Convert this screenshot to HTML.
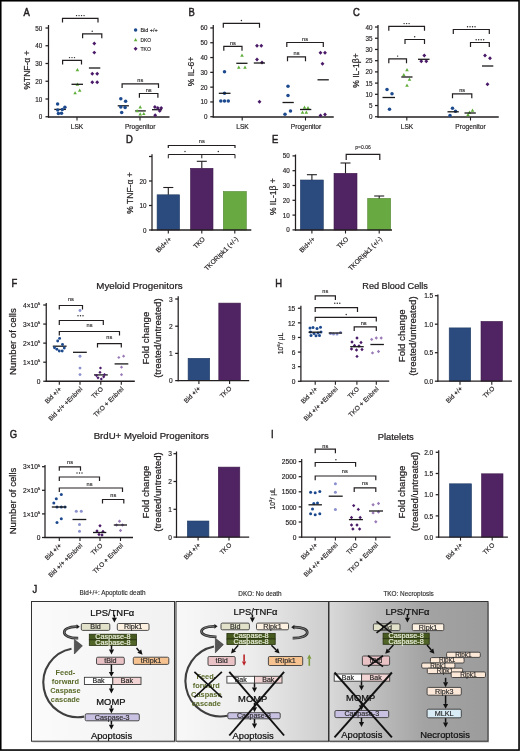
<!DOCTYPE html>
<html><head><meta charset="utf-8"><style>
html,body{margin:0;padding:0;background:#fff;}
svg{display:block;font-family:"Liberation Sans", sans-serif;will-change:transform;}
</style></head><body>
<svg width="520" height="751" viewBox="0 0 520 751">
<rect x="0.00" y="0.00" width="520.00" height="751.00" fill="#ffffff"/>
<text x="23.60" y="15.90" font-size="10.5" text-anchor="start" fill="#231f20" stroke="#231f20" stroke-width="0.47" transform="translate(23.60 15.90) scale(0.9 1) translate(-23.60 -15.90)">A</text>
<line x1="48.50" y1="25.00" x2="48.50" y2="117.62" stroke="#231f20" stroke-width="1.25"/>
<line x1="45.50" y1="116.75" x2="48.50" y2="116.75" stroke="#231f20" stroke-width="1.25"/>
<text x="42.30" y="119.27" font-size="6.3" text-anchor="end" fill="#231f20" stroke="#231f20" stroke-width="0.16">0</text>
<line x1="45.50" y1="99.00" x2="48.50" y2="99.00" stroke="#231f20" stroke-width="1.25"/>
<text x="42.30" y="101.52" font-size="6.3" text-anchor="end" fill="#231f20" stroke="#231f20" stroke-width="0.16">10</text>
<line x1="45.50" y1="81.25" x2="48.50" y2="81.25" stroke="#231f20" stroke-width="1.25"/>
<text x="42.30" y="83.77" font-size="6.3" text-anchor="end" fill="#231f20" stroke="#231f20" stroke-width="0.16">20</text>
<line x1="45.50" y1="63.50" x2="48.50" y2="63.50" stroke="#231f20" stroke-width="1.25"/>
<text x="42.30" y="66.02" font-size="6.3" text-anchor="end" fill="#231f20" stroke="#231f20" stroke-width="0.16">30</text>
<line x1="45.50" y1="45.75" x2="48.50" y2="45.75" stroke="#231f20" stroke-width="1.25"/>
<text x="42.30" y="48.27" font-size="6.3" text-anchor="end" fill="#231f20" stroke="#231f20" stroke-width="0.16">40</text>
<line x1="45.50" y1="28.00" x2="48.50" y2="28.00" stroke="#231f20" stroke-width="1.25"/>
<text x="42.30" y="30.52" font-size="6.3" text-anchor="end" fill="#231f20" stroke="#231f20" stroke-width="0.16">50</text>
<line x1="48.00" y1="117.00" x2="169.50" y2="117.00" stroke="#231f20" stroke-width="1.3"/>
<line x1="77.00" y1="117.00" x2="77.00" y2="120.50" stroke="#231f20" stroke-width="1.105"/>
<line x1="140.00" y1="117.00" x2="140.00" y2="120.50" stroke="#231f20" stroke-width="1.105"/>
<text x="30.00" y="70.00" font-size="8.5" text-anchor="middle" fill="#231f20" stroke="#231f20" stroke-width="0.21" transform="rotate(-90 30.00 70.00)">%TNF-&#945; +</text>
<text x="77.00" y="128.60" font-size="6.6" text-anchor="middle" fill="#231f20" stroke="#231f20" stroke-width="0.17">LSK</text>
<text x="140.20" y="129.00" font-size="6.6" text-anchor="middle" fill="#231f20" stroke="#231f20" stroke-width="0.17">Progenitor</text>
<path d="M62.50 22.60V18.30H98.00V22.60" fill="none" stroke="#231f20" stroke-width="1.2"/>
<circle cx="76.55" cy="15.60" r="0.7" fill="#231f20"/>
<circle cx="79.05" cy="15.60" r="0.7" fill="#231f20"/>
<circle cx="81.55" cy="15.60" r="0.7" fill="#231f20"/>
<circle cx="84.05" cy="15.60" r="0.7" fill="#231f20"/>
<path d="M82.60 38.20V33.80H101.80V38.20" fill="none" stroke="#231f20" stroke-width="1.2"/>
<circle cx="92.20" cy="31.20" r="0.7" fill="#231f20"/>
<path d="M62.60 64.50V60.30H81.50V64.50" fill="none" stroke="#231f20" stroke-width="1.2"/>
<circle cx="69.50" cy="57.60" r="0.7" fill="#231f20"/>
<circle cx="72.00" cy="57.60" r="0.7" fill="#231f20"/>
<circle cx="74.50" cy="57.60" r="0.7" fill="#231f20"/>
<path d="M122.10 88.10V83.80H158.50V88.10" fill="none" stroke="#231f20" stroke-width="1.2"/>
<text x="140.30" y="82.00" font-size="5.6" text-anchor="middle" fill="#231f20" stroke="#231f20" stroke-width="0.14">ns</text>
<path d="M139.40 97.70V93.50H157.90V97.70" fill="none" stroke="#231f20" stroke-width="1.2"/>
<text x="148.65" y="91.70" font-size="5.6" text-anchor="middle" fill="#231f20" stroke="#231f20" stroke-width="0.14">ns</text>
<line x1="54.30" y1="109.40" x2="65.90" y2="109.40" stroke="#1a1a1a" stroke-width="1.3"/>
<circle cx="57.60" cy="103.90" r="1.75" fill="#1d4a8e"/>
<circle cx="64.90" cy="107.30" r="1.75" fill="#1d4a8e"/>
<circle cx="62.30" cy="109.40" r="1.75" fill="#1d4a8e"/>
<circle cx="57.70" cy="109.90" r="1.75" fill="#1d4a8e"/>
<circle cx="58.40" cy="113.50" r="1.75" fill="#1d4a8e"/>
<circle cx="61.50" cy="113.30" r="1.75" fill="#1d4a8e"/>
<polygon points="77.40,68.12 79.20,71.25 75.60,71.25" fill="#5fae3a"/>
<polygon points="77.40,82.62 79.20,85.75 75.60,85.75" fill="#5fae3a"/>
<polygon points="79.70,88.62 81.50,91.75 77.90,91.75" fill="#5fae3a"/>
<polygon points="75.10,91.22 76.90,94.35 73.30,94.35" fill="#5fae3a"/>
<line x1="71.50" y1="84.30" x2="83.00" y2="84.30" stroke="#1a1a1a" stroke-width="1.3"/>
<polygon points="94.30,41.55 96.25,43.50 94.30,45.45 92.35,43.50" fill="#4a1a68"/>
<polygon points="94.30,50.65 96.25,52.60 94.30,54.55 92.35,52.60" fill="#4a1a68"/>
<polygon points="92.30,71.85 94.25,73.80 92.30,75.75 90.35,73.80" fill="#4a1a68"/>
<polygon points="97.20,71.85 99.15,73.80 97.20,75.75 95.25,73.80" fill="#4a1a68"/>
<polygon points="92.30,80.35 94.25,82.30 92.30,84.25 90.35,82.30" fill="#4a1a68"/>
<polygon points="97.20,80.35 99.15,82.30 97.20,84.25 95.25,82.30" fill="#4a1a68"/>
<line x1="88.90" y1="68.00" x2="100.30" y2="68.00" stroke="#1a1a1a" stroke-width="1.3"/>
<line x1="117.70" y1="105.80" x2="128.90" y2="105.80" stroke="#1a1a1a" stroke-width="1.3"/>
<circle cx="120.80" cy="98.80" r="1.75" fill="#1d4a8e"/>
<circle cx="125.60" cy="101.30" r="1.75" fill="#1d4a8e"/>
<circle cx="120.80" cy="107.00" r="1.75" fill="#1d4a8e"/>
<circle cx="125.10" cy="107.50" r="1.75" fill="#1d4a8e"/>
<circle cx="121.70" cy="112.50" r="1.75" fill="#1d4a8e"/>
<line x1="135.20" y1="110.90" x2="145.80" y2="110.90" stroke="#1a1a1a" stroke-width="1.3"/>
<polygon points="140.20,105.32 142.00,108.45 138.40,108.45" fill="#5fae3a"/>
<polygon points="137.10,109.02 138.90,112.15 135.30,112.15" fill="#5fae3a"/>
<polygon points="140.20,112.32 142.00,115.45 138.40,115.45" fill="#5fae3a"/>
<polygon points="143.80,111.92 145.60,115.05 142.00,115.05" fill="#5fae3a"/>
<line x1="152.00" y1="109.70" x2="162.10" y2="109.70" stroke="#1a1a1a" stroke-width="1.3"/>
<polygon points="154.90,105.05 156.85,107.00 154.90,108.95 152.95,107.00" fill="#4a1a68"/>
<polygon points="157.80,106.05 159.75,108.00 157.80,109.95 155.85,108.00" fill="#4a1a68"/>
<polygon points="161.20,106.05 163.15,108.00 161.20,109.95 159.25,108.00" fill="#4a1a68"/>
<polygon points="159.70,108.95 161.65,110.90 159.70,112.85 157.75,110.90" fill="#4a1a68"/>
<polygon points="155.20,113.25 157.15,115.20 155.20,117.15 153.25,115.20" fill="#4a1a68"/>
<circle cx="135.60" cy="29.90" r="1.75" fill="#1d4a8e"/>
<text x="140.40" y="32.00" font-size="5.7" text-anchor="start" fill="#231f20" stroke="#231f20" stroke-width="0.14" textLength="17.20" lengthAdjust="spacingAndGlyphs">Bid +/+</text>
<polygon points="135.60,38.02 137.40,41.15 133.80,41.15" fill="#5fae3a"/>
<text x="140.40" y="41.90" font-size="5.7" text-anchor="start" fill="#231f20" stroke="#231f20" stroke-width="0.14" textLength="10.60" lengthAdjust="spacingAndGlyphs">DKO</text>
<polygon points="135.60,46.75 137.55,48.70 135.60,50.65 133.65,48.70" fill="#4a1a68"/>
<text x="140.40" y="50.80" font-size="5.7" text-anchor="start" fill="#231f20" stroke="#231f20" stroke-width="0.14" textLength="10.60" lengthAdjust="spacingAndGlyphs">TKO</text>
<text x="188.50" y="15.90" font-size="10.5" text-anchor="start" fill="#231f20" stroke="#231f20" stroke-width="0.47" transform="translate(188.50 15.90) scale(0.9 1) translate(-188.50 -15.90)">B</text>
<line x1="213.25" y1="25.00" x2="213.25" y2="117.62" stroke="#231f20" stroke-width="1.25"/>
<line x1="210.25" y1="116.75" x2="213.25" y2="116.75" stroke="#231f20" stroke-width="1.25"/>
<text x="207.60" y="119.27" font-size="6.3" text-anchor="end" fill="#231f20" stroke="#231f20" stroke-width="0.16">0</text>
<line x1="210.25" y1="101.95" x2="213.25" y2="101.95" stroke="#231f20" stroke-width="1.25"/>
<text x="207.60" y="104.47" font-size="6.3" text-anchor="end" fill="#231f20" stroke="#231f20" stroke-width="0.16">10</text>
<line x1="210.25" y1="87.15" x2="213.25" y2="87.15" stroke="#231f20" stroke-width="1.25"/>
<text x="207.60" y="89.67" font-size="6.3" text-anchor="end" fill="#231f20" stroke="#231f20" stroke-width="0.16">20</text>
<line x1="210.25" y1="72.35" x2="213.25" y2="72.35" stroke="#231f20" stroke-width="1.25"/>
<text x="207.60" y="74.87" font-size="6.3" text-anchor="end" fill="#231f20" stroke="#231f20" stroke-width="0.16">30</text>
<line x1="210.25" y1="57.55" x2="213.25" y2="57.55" stroke="#231f20" stroke-width="1.25"/>
<text x="207.60" y="60.07" font-size="6.3" text-anchor="end" fill="#231f20" stroke="#231f20" stroke-width="0.16">40</text>
<line x1="210.25" y1="42.75" x2="213.25" y2="42.75" stroke="#231f20" stroke-width="1.25"/>
<text x="207.60" y="45.27" font-size="6.3" text-anchor="end" fill="#231f20" stroke="#231f20" stroke-width="0.16">50</text>
<line x1="210.25" y1="27.95" x2="213.25" y2="27.95" stroke="#231f20" stroke-width="1.25"/>
<text x="207.60" y="30.47" font-size="6.3" text-anchor="end" fill="#231f20" stroke="#231f20" stroke-width="0.16">60</text>
<line x1="212.75" y1="117.00" x2="333.75" y2="117.00" stroke="#231f20" stroke-width="1.3"/>
<line x1="242.20" y1="117.00" x2="242.20" y2="120.50" stroke="#231f20" stroke-width="1.105"/>
<line x1="305.50" y1="117.00" x2="305.50" y2="120.50" stroke="#231f20" stroke-width="1.105"/>
<text x="194.30" y="71.50" font-size="8.5" text-anchor="middle" fill="#231f20" stroke="#231f20" stroke-width="0.21" transform="rotate(-90 194.30 71.50)">% IL-6+</text>
<text x="242.50" y="128.60" font-size="6.6" text-anchor="middle" fill="#231f20" stroke="#231f20" stroke-width="0.17">LSK</text>
<text x="306.00" y="129.00" font-size="6.6" text-anchor="middle" fill="#231f20" stroke="#231f20" stroke-width="0.17">Progenitor</text>
<path d="M223.30 27.80V23.30H259.50V27.80" fill="none" stroke="#231f20" stroke-width="1.2"/>
<circle cx="241.40" cy="20.50" r="0.7" fill="#231f20"/>
<path d="M223.80 50.80V46.30H242.00V50.80" fill="none" stroke="#231f20" stroke-width="1.2"/>
<text x="232.90" y="44.50" font-size="5.6" text-anchor="middle" fill="#231f20" stroke="#231f20" stroke-width="0.14">ns</text>
<path d="M286.80 47.00V42.50H323.30V47.00" fill="none" stroke="#231f20" stroke-width="1.2"/>
<text x="305.05" y="40.70" font-size="5.6" text-anchor="middle" fill="#231f20" stroke="#231f20" stroke-width="0.14">ns</text>
<path d="M287.50 61.30V56.80H305.50V61.30" fill="none" stroke="#231f20" stroke-width="1.2"/>
<text x="296.50" y="55.00" font-size="5.6" text-anchor="middle" fill="#231f20" stroke="#231f20" stroke-width="0.14">ns</text>
<circle cx="224.50" cy="71.80" r="1.75" fill="#1d4a8e"/>
<circle cx="224.50" cy="93.30" r="1.75" fill="#1d4a8e"/>
<circle cx="220.80" cy="101.00" r="1.75" fill="#1d4a8e"/>
<circle cx="224.50" cy="101.00" r="1.75" fill="#1d4a8e"/>
<circle cx="228.30" cy="101.00" r="1.75" fill="#1d4a8e"/>
<line x1="218.80" y1="93.30" x2="230.50" y2="93.30" stroke="#1a1a1a" stroke-width="1.3"/>
<polygon points="242.00,53.62 243.80,56.75 240.20,56.75" fill="#5fae3a"/>
<polygon points="238.80,65.62 240.60,68.75 237.00,68.75" fill="#5fae3a"/>
<polygon points="245.00,65.62 246.80,68.75 243.20,68.75" fill="#5fae3a"/>
<line x1="236.30" y1="63.30" x2="247.50" y2="63.30" stroke="#1a1a1a" stroke-width="1.3"/>
<polygon points="257.00,43.85 258.95,45.80 257.00,47.75 255.05,45.80" fill="#4a1a68"/>
<polygon points="261.30,43.85 263.25,45.80 261.30,47.75 259.35,45.80" fill="#4a1a68"/>
<polygon points="257.00,57.55 258.95,59.50 257.00,61.45 255.05,59.50" fill="#4a1a68"/>
<polygon points="262.00,60.55 263.95,62.50 262.00,64.45 260.05,62.50" fill="#4a1a68"/>
<polygon points="259.50,99.85 261.45,101.80 259.50,103.75 257.55,101.80" fill="#4a1a68"/>
<line x1="253.80" y1="63.00" x2="265.00" y2="63.00" stroke="#1a1a1a" stroke-width="1.3"/>
<circle cx="288.00" cy="86.30" r="1.75" fill="#1d4a8e"/>
<circle cx="288.00" cy="95.50" r="1.75" fill="#1d4a8e"/>
<circle cx="290.50" cy="111.00" r="1.75" fill="#1d4a8e"/>
<circle cx="285.00" cy="114.30" r="1.75" fill="#1d4a8e"/>
<line x1="282.50" y1="102.50" x2="293.80" y2="102.50" stroke="#1a1a1a" stroke-width="1.3"/>
<polygon points="304.50,105.62 306.30,108.75 302.70,108.75" fill="#5fae3a"/>
<polygon points="308.00,106.12 309.80,109.25 306.20,109.25" fill="#5fae3a"/>
<polygon points="302.50,110.62 304.30,113.75 300.70,113.75" fill="#5fae3a"/>
<polygon points="306.30,110.62 308.10,113.75 304.50,113.75" fill="#5fae3a"/>
<line x1="300.00" y1="109.50" x2="311.30" y2="109.50" stroke="#1a1a1a" stroke-width="1.3"/>
<polygon points="320.50,50.85 322.45,52.80 320.50,54.75 318.55,52.80" fill="#4a1a68"/>
<polygon points="325.00,50.85 326.95,52.80 325.00,54.75 323.05,52.80" fill="#4a1a68"/>
<polygon points="322.50,61.85 324.45,63.80 322.50,65.75 320.55,63.80" fill="#4a1a68"/>
<polygon points="320.50,113.55 322.45,115.50 320.50,117.45 318.55,115.50" fill="#4a1a68"/>
<polygon points="325.00,112.55 326.95,114.50 325.00,116.45 323.05,114.50" fill="#4a1a68"/>
<line x1="317.50" y1="79.80" x2="328.80" y2="79.80" stroke="#1a1a1a" stroke-width="1.3"/>
<text x="353.00" y="15.90" font-size="10.5" text-anchor="start" fill="#231f20" stroke="#231f20" stroke-width="0.47" transform="translate(353.00 15.90) scale(0.9 1) translate(-353.00 -15.90)">C</text>
<line x1="378.00" y1="25.00" x2="378.00" y2="117.62" stroke="#231f20" stroke-width="1.25"/>
<line x1="375.00" y1="116.75" x2="378.00" y2="116.75" stroke="#231f20" stroke-width="1.25"/>
<text x="372.60" y="119.27" font-size="6.3" text-anchor="end" fill="#231f20" stroke="#231f20" stroke-width="0.16">0</text>
<line x1="375.00" y1="105.53" x2="378.00" y2="105.53" stroke="#231f20" stroke-width="1.25"/>
<text x="372.60" y="108.05" font-size="6.3" text-anchor="end" fill="#231f20" stroke="#231f20" stroke-width="0.16">5</text>
<line x1="375.00" y1="94.32" x2="378.00" y2="94.32" stroke="#231f20" stroke-width="1.25"/>
<text x="372.60" y="96.84" font-size="6.3" text-anchor="end" fill="#231f20" stroke="#231f20" stroke-width="0.16">10</text>
<line x1="375.00" y1="83.11" x2="378.00" y2="83.11" stroke="#231f20" stroke-width="1.25"/>
<text x="372.60" y="85.62" font-size="6.3" text-anchor="end" fill="#231f20" stroke="#231f20" stroke-width="0.16">15</text>
<line x1="375.00" y1="71.89" x2="378.00" y2="71.89" stroke="#231f20" stroke-width="1.25"/>
<text x="372.60" y="74.41" font-size="6.3" text-anchor="end" fill="#231f20" stroke="#231f20" stroke-width="0.16">20</text>
<line x1="375.00" y1="60.68" x2="378.00" y2="60.68" stroke="#231f20" stroke-width="1.25"/>
<text x="372.60" y="63.20" font-size="6.3" text-anchor="end" fill="#231f20" stroke="#231f20" stroke-width="0.16">25</text>
<line x1="375.00" y1="49.46" x2="378.00" y2="49.46" stroke="#231f20" stroke-width="1.25"/>
<text x="372.60" y="51.98" font-size="6.3" text-anchor="end" fill="#231f20" stroke="#231f20" stroke-width="0.16">30</text>
<line x1="375.00" y1="38.25" x2="378.00" y2="38.25" stroke="#231f20" stroke-width="1.25"/>
<text x="372.60" y="40.77" font-size="6.3" text-anchor="end" fill="#231f20" stroke="#231f20" stroke-width="0.16">35</text>
<line x1="375.00" y1="27.03" x2="378.00" y2="27.03" stroke="#231f20" stroke-width="1.25"/>
<text x="372.60" y="29.55" font-size="6.3" text-anchor="end" fill="#231f20" stroke="#231f20" stroke-width="0.16">40</text>
<line x1="377.50" y1="117.00" x2="498.75" y2="117.00" stroke="#231f20" stroke-width="1.3"/>
<line x1="406.80" y1="117.00" x2="406.80" y2="120.50" stroke="#231f20" stroke-width="1.105"/>
<line x1="470.50" y1="117.00" x2="470.50" y2="120.50" stroke="#231f20" stroke-width="1.105"/>
<text x="359.30" y="70.50" font-size="8.5" text-anchor="middle" fill="#231f20" stroke="#231f20" stroke-width="0.21" transform="rotate(-90 359.30 70.50)">% IL-1&#946;+</text>
<text x="407.00" y="128.60" font-size="6.6" text-anchor="middle" fill="#231f20" stroke="#231f20" stroke-width="0.17">LSK</text>
<text x="470.50" y="129.00" font-size="6.6" text-anchor="middle" fill="#231f20" stroke="#231f20" stroke-width="0.17">Progenitor</text>
<path d="M388.80 30.80V26.30H424.50V30.80" fill="none" stroke="#231f20" stroke-width="1.2"/>
<circle cx="404.10" cy="23.60" r="0.7" fill="#231f20"/>
<circle cx="406.60" cy="23.60" r="0.7" fill="#231f20"/>
<circle cx="409.10" cy="23.60" r="0.7" fill="#231f20"/>
<path d="M405.00 44.00V39.50H424.50V44.00" fill="none" stroke="#231f20" stroke-width="1.2"/>
<circle cx="414.70" cy="36.80" r="0.7" fill="#231f20"/>
<path d="M388.80 63.30V58.80H406.50V63.30" fill="none" stroke="#231f20" stroke-width="1.2"/>
<circle cx="397.60" cy="56.10" r="0.7" fill="#231f20"/>
<path d="M453.30 34.00V29.50H489.30V34.00" fill="none" stroke="#231f20" stroke-width="1.2"/>
<circle cx="467.55" cy="26.80" r="0.7" fill="#231f20"/>
<circle cx="470.05" cy="26.80" r="0.7" fill="#231f20"/>
<circle cx="472.55" cy="26.80" r="0.7" fill="#231f20"/>
<circle cx="475.05" cy="26.80" r="0.7" fill="#231f20"/>
<path d="M470.50 47.00V42.50H489.30V47.00" fill="none" stroke="#231f20" stroke-width="1.2"/>
<circle cx="476.15" cy="39.80" r="0.7" fill="#231f20"/>
<circle cx="478.65" cy="39.80" r="0.7" fill="#231f20"/>
<circle cx="481.15" cy="39.80" r="0.7" fill="#231f20"/>
<circle cx="483.65" cy="39.80" r="0.7" fill="#231f20"/>
<path d="M452.50 98.30V93.80H471.80V98.30" fill="none" stroke="#231f20" stroke-width="1.2"/>
<text x="462.15" y="92.00" font-size="5.6" text-anchor="middle" fill="#231f20" stroke="#231f20" stroke-width="0.14">ns</text>
<circle cx="387.00" cy="89.50" r="1.75" fill="#1d4a8e"/>
<circle cx="392.00" cy="93.80" r="1.75" fill="#1d4a8e"/>
<circle cx="389.50" cy="109.30" r="1.75" fill="#1d4a8e"/>
<line x1="382.50" y1="97.50" x2="395.00" y2="97.50" stroke="#1a1a1a" stroke-width="1.3"/>
<polygon points="407.00,68.12 408.80,71.25 405.20,71.25" fill="#5fae3a"/>
<polygon points="403.80,73.12 405.60,76.25 402.00,76.25" fill="#5fae3a"/>
<polygon points="409.50,77.62 411.30,80.75 407.70,80.75" fill="#5fae3a"/>
<polygon points="407.00,83.62 408.80,86.75 405.20,86.75" fill="#5fae3a"/>
<line x1="401.30" y1="77.00" x2="412.50" y2="77.00" stroke="#1a1a1a" stroke-width="1.3"/>
<polygon points="424.30,53.55 426.25,55.50 424.30,57.45 422.35,55.50" fill="#4a1a68"/>
<polygon points="421.30,59.35 423.25,61.30 421.30,63.25 419.35,61.30" fill="#4a1a68"/>
<polygon points="426.30,59.35 428.25,61.30 426.30,63.25 424.35,61.30" fill="#4a1a68"/>
<line x1="418.00" y1="59.30" x2="429.50" y2="59.30" stroke="#1a1a1a" stroke-width="1.3"/>
<circle cx="452.50" cy="108.30" r="1.75" fill="#1d4a8e"/>
<circle cx="455.50" cy="111.30" r="1.75" fill="#1d4a8e"/>
<circle cx="450.00" cy="115.50" r="1.75" fill="#1d4a8e"/>
<line x1="447.50" y1="111.80" x2="458.80" y2="111.80" stroke="#1a1a1a" stroke-width="1.3"/>
<polygon points="472.50,108.62 474.30,111.75 470.70,111.75" fill="#5fae3a"/>
<polygon points="469.50,110.62 471.30,113.75 467.70,113.75" fill="#5fae3a"/>
<polygon points="468.00,113.12 469.80,116.25 466.20,116.25" fill="#5fae3a"/>
<line x1="464.50" y1="113.00" x2="475.80" y2="113.00" stroke="#1a1a1a" stroke-width="1.3"/>
<polygon points="485.00,53.55 486.95,55.50 485.00,57.45 483.05,55.50" fill="#4a1a68"/>
<polygon points="490.00,56.35 491.95,58.30 490.00,60.25 488.05,58.30" fill="#4a1a68"/>
<polygon points="487.50,82.35 489.45,84.30 487.50,86.25 485.55,84.30" fill="#4a1a68"/>
<line x1="482.00" y1="66.00" x2="493.30" y2="66.00" stroke="#1a1a1a" stroke-width="1.3"/>
<text x="126.00" y="143.00" font-size="10.5" text-anchor="start" fill="#231f20" stroke="#231f20" stroke-width="0.47" transform="translate(126.00 143.00) scale(0.9 1) translate(-126.00 -143.00)">D</text>
<line x1="152.00" y1="154.20" x2="152.00" y2="230.62" stroke="#231f20" stroke-width="1.25"/>
<line x1="149.00" y1="230.00" x2="152.00" y2="230.00" stroke="#231f20" stroke-width="1.25"/>
<text x="146.50" y="232.52" font-size="6.3" text-anchor="end" fill="#231f20" stroke="#231f20" stroke-width="0.16">0</text>
<line x1="149.00" y1="205.50" x2="152.00" y2="205.50" stroke="#231f20" stroke-width="1.25"/>
<text x="146.50" y="208.02" font-size="6.3" text-anchor="end" fill="#231f20" stroke="#231f20" stroke-width="0.16">10</text>
<line x1="149.00" y1="181.00" x2="152.00" y2="181.00" stroke="#231f20" stroke-width="1.25"/>
<text x="146.50" y="183.52" font-size="6.3" text-anchor="end" fill="#231f20" stroke="#231f20" stroke-width="0.16">20</text>
<line x1="149.00" y1="156.50" x2="152.00" y2="156.50" stroke="#231f20" stroke-width="1.25"/>
<rect x="157.10" y="194.80" width="22.50" height="35.20" fill="#2b4b7f" stroke="#223c65" stroke-width="0.6"/>
<line x1="168.30" y1="194.80" x2="168.30" y2="187.50" stroke="#231f20" stroke-width="1.1"/>
<line x1="163.30" y1="187.50" x2="173.30" y2="187.50" stroke="#231f20" stroke-width="1.1"/>
<rect x="190.50" y="168.30" width="22.50" height="61.70" fill="#502462" stroke="#401c4e" stroke-width="0.6"/>
<line x1="201.80" y1="168.30" x2="201.80" y2="161.30" stroke="#231f20" stroke-width="1.1"/>
<line x1="196.80" y1="161.30" x2="206.80" y2="161.30" stroke="#231f20" stroke-width="1.1"/>
<rect x="223.30" y="191.50" width="23.00" height="38.50" fill="#68a942" stroke="#538734" stroke-width="0.6"/>
<line x1="151.50" y1="230.00" x2="251.30" y2="230.00" stroke="#231f20" stroke-width="1.3"/>
<line x1="168.30" y1="230.00" x2="168.30" y2="233.50" stroke="#231f20" stroke-width="1.105"/>
<line x1="201.80" y1="230.00" x2="201.80" y2="233.50" stroke="#231f20" stroke-width="1.105"/>
<line x1="234.80" y1="230.00" x2="234.80" y2="233.50" stroke="#231f20" stroke-width="1.105"/>
<text x="132.80" y="193.00" font-size="8.5" text-anchor="middle" fill="#231f20" stroke="#231f20" stroke-width="0.21" transform="rotate(-90 132.80 193.00)">% TNF-&#945; +</text>
<path d="M168.30 148.10V145.50H235.00V148.10" fill="none" stroke="#231f20" stroke-width="1.2"/>
<text x="201.80" y="142.70" font-size="5.6" text-anchor="middle" fill="#231f20" stroke="#231f20" stroke-width="0.14">ns</text>
<path d="M168.3 158.3V154.5H235V158.3M201.8 154.5V158.3" fill="none" stroke="#231f20" stroke-width="1"/>
<circle cx="185.00" cy="151.50" r="0.7" fill="#231f20"/>
<circle cx="218.30" cy="151.50" r="0.7" fill="#231f20"/>
<text x="172.00" y="239.50" font-size="6.6" text-anchor="end" fill="#231f20" stroke="#231f20" stroke-width="0.17" transform="rotate(-45 172.00 239.50)">Bid+/+</text>
<text x="205.50" y="239.50" font-size="6.6" text-anchor="end" fill="#231f20" stroke="#231f20" stroke-width="0.17" transform="rotate(-45 205.50 239.50)">TKO</text>
<text x="238.50" y="239.50" font-size="6.6" text-anchor="end" fill="#231f20" stroke="#231f20" stroke-width="0.17" transform="rotate(-45 238.50 239.50)">TKORipk1 (+/-)</text>
<text x="272.00" y="143.00" font-size="10.5" text-anchor="start" fill="#231f20" stroke="#231f20" stroke-width="0.47" transform="translate(272.00 143.00) scale(0.9 1) translate(-272.00 -143.00)">E</text>
<line x1="295.50" y1="154.50" x2="295.50" y2="230.62" stroke="#231f20" stroke-width="1.25"/>
<line x1="292.50" y1="229.90" x2="295.50" y2="229.90" stroke="#231f20" stroke-width="1.25"/>
<text x="289.80" y="232.42" font-size="6.3" text-anchor="end" fill="#231f20" stroke="#231f20" stroke-width="0.16">0</text>
<line x1="292.50" y1="215.10" x2="295.50" y2="215.10" stroke="#231f20" stroke-width="1.25"/>
<text x="289.80" y="217.62" font-size="6.3" text-anchor="end" fill="#231f20" stroke="#231f20" stroke-width="0.16">10</text>
<line x1="292.50" y1="200.30" x2="295.50" y2="200.30" stroke="#231f20" stroke-width="1.25"/>
<text x="289.80" y="202.82" font-size="6.3" text-anchor="end" fill="#231f20" stroke="#231f20" stroke-width="0.16">20</text>
<line x1="292.50" y1="185.50" x2="295.50" y2="185.50" stroke="#231f20" stroke-width="1.25"/>
<text x="289.80" y="188.02" font-size="6.3" text-anchor="end" fill="#231f20" stroke="#231f20" stroke-width="0.16">30</text>
<line x1="292.50" y1="170.70" x2="295.50" y2="170.70" stroke="#231f20" stroke-width="1.25"/>
<text x="289.80" y="173.22" font-size="6.3" text-anchor="end" fill="#231f20" stroke="#231f20" stroke-width="0.16">40</text>
<line x1="292.50" y1="155.90" x2="295.50" y2="155.90" stroke="#231f20" stroke-width="1.25"/>
<text x="289.80" y="158.42" font-size="6.3" text-anchor="end" fill="#231f20" stroke="#231f20" stroke-width="0.16">50</text>
<rect x="300.40" y="180.00" width="22.90" height="50.00" fill="#2b4b7f" stroke="#223c65" stroke-width="0.6"/>
<line x1="311.90" y1="180.00" x2="311.90" y2="174.70" stroke="#231f20" stroke-width="1.1"/>
<line x1="306.90" y1="174.70" x2="316.90" y2="174.70" stroke="#231f20" stroke-width="1.1"/>
<rect x="334.00" y="173.30" width="23.00" height="56.70" fill="#502462" stroke="#401c4e" stroke-width="0.6"/>
<line x1="345.50" y1="173.30" x2="345.50" y2="163.00" stroke="#231f20" stroke-width="1.1"/>
<line x1="340.50" y1="163.00" x2="350.50" y2="163.00" stroke="#231f20" stroke-width="1.1"/>
<rect x="367.70" y="198.40" width="22.90" height="31.60" fill="#68a942" stroke="#538734" stroke-width="0.6"/>
<line x1="379.20" y1="198.40" x2="379.20" y2="196.00" stroke="#231f20" stroke-width="1.1"/>
<line x1="374.20" y1="196.00" x2="384.20" y2="196.00" stroke="#231f20" stroke-width="1.1"/>
<line x1="295.00" y1="230.00" x2="392.00" y2="230.00" stroke="#231f20" stroke-width="1.3"/>
<line x1="311.90" y1="230.00" x2="311.90" y2="233.50" stroke="#231f20" stroke-width="1.105"/>
<line x1="345.50" y1="230.00" x2="345.50" y2="233.50" stroke="#231f20" stroke-width="1.105"/>
<line x1="379.20" y1="230.00" x2="379.20" y2="233.50" stroke="#231f20" stroke-width="1.105"/>
<text x="275.80" y="196.70" font-size="8.5" text-anchor="middle" fill="#231f20" stroke="#231f20" stroke-width="0.21" transform="rotate(-90 275.80 196.70)">% IL-1&#946; +</text>
<path d="M346.20 159.90V154.40H379.80V159.90" fill="none" stroke="#231f20" stroke-width="1.2"/>
<text x="363.00" y="148.70" font-size="5.0" text-anchor="middle" fill="#231f20" stroke="#231f20" stroke-width="0.12">p=0.06</text>
<text x="315.50" y="239.50" font-size="6.6" text-anchor="end" fill="#231f20" stroke="#231f20" stroke-width="0.17" transform="rotate(-45 315.50 239.50)">Bid+/+</text>
<text x="349.00" y="239.50" font-size="6.6" text-anchor="end" fill="#231f20" stroke="#231f20" stroke-width="0.17" transform="rotate(-45 349.00 239.50)">TKO</text>
<text x="382.50" y="239.50" font-size="6.6" text-anchor="end" fill="#231f20" stroke="#231f20" stroke-width="0.17" transform="rotate(-45 382.50 239.50)">TKORipk1 (+/-)</text>
<text x="11.60" y="286.80" font-size="10.5" text-anchor="start" fill="#231f20" stroke="#231f20" stroke-width="0.47" transform="translate(11.60 286.80) scale(0.9 1) translate(-11.60 -286.80)">F</text>
<text x="139.40" y="288.90" font-size="9.6" text-anchor="middle" fill="#231f20" stroke="#231f20" stroke-width="0.24" textLength="86.30" lengthAdjust="spacingAndGlyphs">Myeloid Progenitors</text>
<line x1="46.25" y1="303.00" x2="46.25" y2="381.88" stroke="#231f20" stroke-width="1.25"/>
<line x1="43.25" y1="381.25" x2="46.25" y2="381.25" stroke="#231f20" stroke-width="1.25"/>
<text x="40.30" y="383.89" font-size="6.6" text-anchor="end" fill="#231f20" stroke="#231f20" stroke-width="0.17">0</text>
<line x1="43.25" y1="362.19" x2="46.25" y2="362.19" stroke="#231f20" stroke-width="1.25"/>
<text x="40.30" y="364.83" font-size="6.6" text-anchor="end" fill="#231f20" stroke="#231f20" stroke-width="0.17">1&#215;10<tspan font-size="4.4" dy="-2.6">5</tspan></text>
<line x1="43.25" y1="343.13" x2="46.25" y2="343.13" stroke="#231f20" stroke-width="1.25"/>
<text x="40.30" y="345.77" font-size="6.6" text-anchor="end" fill="#231f20" stroke="#231f20" stroke-width="0.17">2&#215;10<tspan font-size="4.4" dy="-2.6">5</tspan></text>
<line x1="43.25" y1="324.07" x2="46.25" y2="324.07" stroke="#231f20" stroke-width="1.25"/>
<text x="40.30" y="326.71" font-size="6.6" text-anchor="end" fill="#231f20" stroke="#231f20" stroke-width="0.17">3&#215;10<tspan font-size="4.4" dy="-2.6">5</tspan></text>
<line x1="43.25" y1="305.01" x2="46.25" y2="305.01" stroke="#231f20" stroke-width="1.25"/>
<text x="40.30" y="307.65" font-size="6.6" text-anchor="end" fill="#231f20" stroke="#231f20" stroke-width="0.17">4&#215;10<tspan font-size="4.4" dy="-2.6">5</tspan></text>
<line x1="45.75" y1="381.25" x2="134.80" y2="381.25" stroke="#231f20" stroke-width="1.3"/>
<line x1="59.30" y1="381.25" x2="59.30" y2="384.75" stroke="#231f20" stroke-width="1.105"/>
<line x1="80.00" y1="381.25" x2="80.00" y2="384.75" stroke="#231f20" stroke-width="1.105"/>
<line x1="100.80" y1="381.25" x2="100.80" y2="384.75" stroke="#231f20" stroke-width="1.105"/>
<line x1="121.30" y1="381.25" x2="121.30" y2="384.75" stroke="#231f20" stroke-width="1.105"/>
<text x="16.50" y="341.60" font-size="9.6" text-anchor="middle" fill="#231f20" stroke="#231f20" stroke-width="0.24" transform="rotate(-90 16.50 341.60)">Number of cells</text>
<path d="M59.30 309.50V305.50H82.50V309.50" fill="none" stroke="#231f20" stroke-width="1.2"/>
<text x="70.90" y="301.00" font-size="5.6" text-anchor="middle" fill="#231f20" stroke="#231f20" stroke-width="0.14">ns</text>
<path d="M59.30 325.00V320.50H103.30V325.00" fill="none" stroke="#231f20" stroke-width="1.2"/>
<circle cx="78.00" cy="315.80" r="0.7" fill="#231f20"/>
<circle cx="80.50" cy="315.80" r="0.7" fill="#231f20"/>
<circle cx="83.00" cy="315.80" r="0.7" fill="#231f20"/>
<path d="M59.30 335.50V331.50H119.50V335.50" fill="none" stroke="#231f20" stroke-width="1.2"/>
<text x="89.50" y="326.70" font-size="5.6" text-anchor="middle" fill="#231f20" stroke="#231f20" stroke-width="0.14">ns</text>
<path d="M97.50 347.60V343.60H121.30V347.60" fill="none" stroke="#231f20" stroke-width="1.2"/>
<text x="109.30" y="338.70" font-size="5.6" text-anchor="middle" fill="#231f20" stroke="#231f20" stroke-width="0.14">ns</text>
<line x1="52.80" y1="346.20" x2="66.60" y2="346.20" stroke="#1a1a1a" stroke-width="1.3"/>
<circle cx="59.60" cy="338.40" r="1.45" fill="#1d4a8e"/>
<circle cx="57.70" cy="341.00" r="1.45" fill="#1d4a8e"/>
<circle cx="62.50" cy="344.50" r="1.45" fill="#1d4a8e"/>
<circle cx="54.50" cy="347.80" r="1.45" fill="#1d4a8e"/>
<circle cx="56.90" cy="349.30" r="1.45" fill="#1d4a8e"/>
<circle cx="59.30" cy="351.00" r="1.45" fill="#1d4a8e"/>
<circle cx="62.20" cy="351.00" r="1.45" fill="#1d4a8e"/>
<circle cx="64.30" cy="348.00" r="1.45" fill="#1d4a8e"/>
<line x1="73.00" y1="352.30" x2="86.80" y2="352.30" stroke="#1a1a1a" stroke-width="1.3"/>
<circle cx="80.00" cy="310.50" r="1.45" fill="#8990cc"/>
<circle cx="80.00" cy="356.20" r="1.45" fill="#8990cc"/>
<circle cx="80.00" cy="368.10" r="1.45" fill="#8990cc"/>
<circle cx="80.00" cy="374.60" r="1.45" fill="#8990cc"/>
<line x1="94.00" y1="374.90" x2="107.80" y2="374.90" stroke="#1a1a1a" stroke-width="1.3"/>
<polygon points="100.50,366.40 102.10,368.00 100.50,369.60 98.90,368.00" fill="#4a1a68"/>
<polygon points="100.00,370.70 101.60,372.30 100.00,373.90 98.40,372.30" fill="#4a1a68"/>
<polygon points="96.50,374.00 98.10,375.60 96.50,377.20 94.90,375.60" fill="#4a1a68"/>
<polygon points="98.00,376.20 99.60,377.80 98.00,379.40 96.40,377.80" fill="#4a1a68"/>
<polygon points="101.30,377.40 102.90,379.00 101.30,380.60 99.70,379.00" fill="#4a1a68"/>
<polygon points="103.70,375.20 105.30,376.80 103.70,378.40 102.10,376.80" fill="#4a1a68"/>
<polygon points="104.50,372.90 106.10,374.50 104.50,376.10 102.90,374.50" fill="#4a1a68"/>
<line x1="114.60" y1="363.90" x2="128.30" y2="363.90" stroke="#1a1a1a" stroke-width="1.3"/>
<polygon points="118.80,355.90 120.40,357.50 118.80,359.10 117.20,357.50" fill="#9b7ab8"/>
<polygon points="123.60,354.60 125.20,356.20 123.60,357.80 122.00,356.20" fill="#9b7ab8"/>
<polygon points="121.50,365.60 123.10,367.20 121.50,368.80 119.90,367.20" fill="#9b7ab8"/>
<polygon points="121.50,373.10 123.10,374.70 121.50,376.30 119.90,374.70" fill="#9b7ab8"/>
<text x="62.00" y="389.50" font-size="6.5" text-anchor="end" fill="#231f20" stroke="#231f20" stroke-width="0.16" transform="rotate(-45 62.00 389.50)">Bid +/+</text>
<text x="82.80" y="389.50" font-size="6.5" text-anchor="end" fill="#231f20" stroke="#231f20" stroke-width="0.16" transform="rotate(-45 82.80 389.50)">Bid +/+ +Enbrel</text>
<text x="103.50" y="389.50" font-size="6.5" text-anchor="end" fill="#231f20" stroke="#231f20" stroke-width="0.16" transform="rotate(-45 103.50 389.50)">TKO</text>
<text x="124.00" y="389.50" font-size="6.5" text-anchor="end" fill="#231f20" stroke="#231f20" stroke-width="0.16" transform="rotate(-45 124.00 389.50)">TKO + Enbrel</text>
<line x1="178.20" y1="296.30" x2="178.20" y2="381.23" stroke="#231f20" stroke-width="1.25"/>
<line x1="175.20" y1="380.60" x2="178.20" y2="380.60" stroke="#231f20" stroke-width="1.25"/>
<text x="172.60" y="383.24" font-size="6.6" text-anchor="end" fill="#231f20" stroke="#231f20" stroke-width="0.17">0</text>
<line x1="175.20" y1="353.40" x2="178.20" y2="353.40" stroke="#231f20" stroke-width="1.25"/>
<text x="172.60" y="356.04" font-size="6.6" text-anchor="end" fill="#231f20" stroke="#231f20" stroke-width="0.17">1</text>
<line x1="175.20" y1="326.20" x2="178.20" y2="326.20" stroke="#231f20" stroke-width="1.25"/>
<text x="172.60" y="328.84" font-size="6.6" text-anchor="end" fill="#231f20" stroke="#231f20" stroke-width="0.17">2</text>
<line x1="175.20" y1="299.00" x2="178.20" y2="299.00" stroke="#231f20" stroke-width="1.25"/>
<text x="172.60" y="301.64" font-size="6.6" text-anchor="end" fill="#231f20" stroke="#231f20" stroke-width="0.17">3</text>
<rect x="188.10" y="358.30" width="21.60" height="22.30" fill="#2b4b7f" stroke="#223c65" stroke-width="0.6"/>
<rect x="218.80" y="303.10" width="21.60" height="77.50" fill="#502462" stroke="#401c4e" stroke-width="0.6"/>
<line x1="177.70" y1="380.60" x2="249.20" y2="380.60" stroke="#231f20" stroke-width="1.3"/>
<line x1="198.90" y1="380.60" x2="198.90" y2="384.10" stroke="#231f20" stroke-width="1.105"/>
<line x1="229.60" y1="380.60" x2="229.60" y2="384.10" stroke="#231f20" stroke-width="1.105"/>
<text x="149.40" y="338.10" font-size="9.6" text-anchor="middle" fill="#231f20" stroke="#231f20" stroke-width="0.24" transform="rotate(-90 149.40 338.10)">Fold change</text>
<text x="161.50" y="338.10" font-size="9.6" text-anchor="middle" fill="#231f20" stroke="#231f20" stroke-width="0.24" transform="rotate(-90 161.50 338.10)">(treated/untreated)</text>
<text x="201.00" y="389.00" font-size="6.5" text-anchor="end" fill="#231f20" stroke="#231f20" stroke-width="0.16" transform="rotate(-45 201.00 389.00)">Bid +/+</text>
<text x="232.00" y="389.00" font-size="6.5" text-anchor="end" fill="#231f20" stroke="#231f20" stroke-width="0.16" transform="rotate(-45 232.00 389.00)">TKO</text>
<text x="275.20" y="287.50" font-size="10.5" text-anchor="start" fill="#231f20" stroke="#231f20" stroke-width="0.47" transform="translate(275.20 287.50) scale(0.9 1) translate(-275.20 -287.50)">H</text>
<text x="395.10" y="288.90" font-size="9.6" text-anchor="middle" fill="#231f20" stroke="#231f20" stroke-width="0.24" textLength="65.60" lengthAdjust="spacingAndGlyphs">Red Blood Cells</text>
<line x1="300.90" y1="305.80" x2="300.90" y2="381.82" stroke="#231f20" stroke-width="1.25"/>
<line x1="297.90" y1="381.30" x2="300.90" y2="381.30" stroke="#231f20" stroke-width="1.25"/>
<text x="295.30" y="383.94" font-size="6.6" text-anchor="end" fill="#231f20" stroke="#231f20" stroke-width="0.17">0</text>
<line x1="297.90" y1="366.69" x2="300.90" y2="366.69" stroke="#231f20" stroke-width="1.25"/>
<text x="295.30" y="369.33" font-size="6.6" text-anchor="end" fill="#231f20" stroke="#231f20" stroke-width="0.17">3</text>
<line x1="297.90" y1="352.08" x2="300.90" y2="352.08" stroke="#231f20" stroke-width="1.25"/>
<text x="295.30" y="354.72" font-size="6.6" text-anchor="end" fill="#231f20" stroke="#231f20" stroke-width="0.17">6</text>
<line x1="297.90" y1="337.47" x2="300.90" y2="337.47" stroke="#231f20" stroke-width="1.25"/>
<text x="295.30" y="340.11" font-size="6.6" text-anchor="end" fill="#231f20" stroke="#231f20" stroke-width="0.17">9</text>
<line x1="297.90" y1="322.86" x2="300.90" y2="322.86" stroke="#231f20" stroke-width="1.25"/>
<text x="295.30" y="325.50" font-size="6.6" text-anchor="end" fill="#231f20" stroke="#231f20" stroke-width="0.17">12</text>
<line x1="297.90" y1="308.25" x2="300.90" y2="308.25" stroke="#231f20" stroke-width="1.25"/>
<text x="295.30" y="310.89" font-size="6.6" text-anchor="end" fill="#231f20" stroke="#231f20" stroke-width="0.17">15</text>
<line x1="300.40" y1="381.20" x2="389.20" y2="381.20" stroke="#231f20" stroke-width="1.3"/>
<line x1="315.20" y1="381.20" x2="315.20" y2="384.70" stroke="#231f20" stroke-width="1.105"/>
<line x1="335.40" y1="381.20" x2="335.40" y2="384.70" stroke="#231f20" stroke-width="1.105"/>
<line x1="356.90" y1="381.20" x2="356.90" y2="384.70" stroke="#231f20" stroke-width="1.105"/>
<line x1="376.30" y1="381.20" x2="376.30" y2="384.70" stroke="#231f20" stroke-width="1.105"/>
<text x="282.60" y="343.50" font-size="6.8" text-anchor="middle" fill="#231f20" stroke="#231f20" stroke-width="0.17" transform="rotate(-90 282.60 343.50)">10<tspan font-size="4.2" dy="-2.6">6</tspan><tspan dy="2.6">/ &#181;L</tspan></text>
<path d="M315.20 300.00V295.80H335.40V300.00" fill="none" stroke="#231f20" stroke-width="1.2"/>
<text x="325.30" y="293.00" font-size="5.6" text-anchor="middle" fill="#231f20" stroke="#231f20" stroke-width="0.14">ns</text>
<path d="M315.20 311.90V307.70H357.50V311.90" fill="none" stroke="#231f20" stroke-width="1.2"/>
<circle cx="334.80" cy="303.30" r="0.7" fill="#231f20"/>
<circle cx="337.30" cy="303.30" r="0.7" fill="#231f20"/>
<circle cx="339.80" cy="303.30" r="0.7" fill="#231f20"/>
<path d="M315.20 321.50V317.30H376.30V321.50" fill="none" stroke="#231f20" stroke-width="1.2"/>
<circle cx="346.20" cy="314.50" r="0.7" fill="#231f20"/>
<path d="M354.20 331.00V326.80H376.30V331.00" fill="none" stroke="#231f20" stroke-width="1.2"/>
<text x="363.70" y="325.00" font-size="5.6" text-anchor="middle" fill="#231f20" stroke="#231f20" stroke-width="0.14">ns</text>
<circle cx="310.00" cy="328.00" r="1.5" fill="#1d4a8e"/>
<circle cx="313.00" cy="327.50" r="1.5" fill="#1d4a8e"/>
<circle cx="317.00" cy="328.50" r="1.5" fill="#1d4a8e"/>
<circle cx="320.50" cy="327.30" r="1.5" fill="#1d4a8e"/>
<circle cx="310.50" cy="332.00" r="1.5" fill="#1d4a8e"/>
<circle cx="314.00" cy="333.50" r="1.5" fill="#1d4a8e"/>
<circle cx="318.00" cy="333.00" r="1.5" fill="#1d4a8e"/>
<circle cx="321.00" cy="332.00" r="1.5" fill="#1d4a8e"/>
<circle cx="311.00" cy="335.50" r="1.5" fill="#1d4a8e"/>
<circle cx="316.00" cy="335.80" r="1.5" fill="#1d4a8e"/>
<circle cx="319.50" cy="335.50" r="1.5" fill="#1d4a8e"/>
<line x1="308.50" y1="332.20" x2="321.40" y2="332.20" stroke="#1a1a1a" stroke-width="1.3"/>
<circle cx="330.50" cy="333.50" r="1.5" fill="#8990cc"/>
<circle cx="333.50" cy="334.00" r="1.5" fill="#8990cc"/>
<circle cx="337.00" cy="334.00" r="1.5" fill="#8990cc"/>
<circle cx="340.50" cy="332.50" r="1.5" fill="#8990cc"/>
<line x1="328.70" y1="333.00" x2="342.10" y2="333.00" stroke="#1a1a1a" stroke-width="1.3"/>
<polygon points="357.00,336.30 358.70,338.00 357.00,339.70 355.30,338.00" fill="#4a1a68"/>
<polygon points="352.00,340.30 353.70,342.00 352.00,343.70 350.30,342.00" fill="#4a1a68"/>
<polygon points="361.00,340.80 362.70,342.50 361.00,344.20 359.30,342.50" fill="#4a1a68"/>
<polygon points="354.50,343.80 356.20,345.50 354.50,347.20 352.80,345.50" fill="#4a1a68"/>
<polygon points="359.00,344.30 360.70,346.00 359.00,347.70 357.30,346.00" fill="#4a1a68"/>
<polygon points="351.50,347.30 353.20,349.00 351.50,350.70 349.80,349.00" fill="#4a1a68"/>
<polygon points="356.50,348.30 358.20,350.00 356.50,351.70 354.80,350.00" fill="#4a1a68"/>
<polygon points="362.00,347.80 363.70,349.50 362.00,351.20 360.30,349.50" fill="#4a1a68"/>
<polygon points="357.00,354.70 358.70,356.40 357.00,358.10 355.30,356.40" fill="#4a1a68"/>
<line x1="350.20" y1="346.70" x2="363.70" y2="346.70" stroke="#1a1a1a" stroke-width="1.3"/>
<polygon points="371.70,337.70 373.40,339.40 371.70,341.10 370.00,339.40" fill="#9b7ab8"/>
<polygon points="376.30,336.30 378.00,338.00 376.30,339.70 374.60,338.00" fill="#9b7ab8"/>
<polygon points="381.20,336.30 382.90,338.00 381.20,339.70 379.50,338.00" fill="#9b7ab8"/>
<polygon points="372.50,351.20 374.20,352.90 372.50,354.60 370.80,352.90" fill="#9b7ab8"/>
<polygon points="378.50,349.80 380.20,351.50 378.50,353.20 376.80,351.50" fill="#9b7ab8"/>
<line x1="370.40" y1="344.50" x2="383.90" y2="344.50" stroke="#1a1a1a" stroke-width="1.3"/>
<text x="318.00" y="389.50" font-size="6.5" text-anchor="end" fill="#231f20" stroke="#231f20" stroke-width="0.16" transform="rotate(-45 318.00 389.50)">Bid +/+</text>
<text x="338.20" y="389.50" font-size="6.5" text-anchor="end" fill="#231f20" stroke="#231f20" stroke-width="0.16" transform="rotate(-45 338.20 389.50)">Bid +/+ +Enbrel</text>
<text x="359.70" y="389.50" font-size="6.5" text-anchor="end" fill="#231f20" stroke="#231f20" stroke-width="0.16" transform="rotate(-45 359.70 389.50)">TKO</text>
<text x="379.10" y="389.50" font-size="6.5" text-anchor="end" fill="#231f20" stroke="#231f20" stroke-width="0.16" transform="rotate(-45 379.10 389.50)">TKO + Enbrel</text>
<line x1="437.90" y1="294.50" x2="437.90" y2="381.82" stroke="#231f20" stroke-width="1.25"/>
<line x1="434.90" y1="381.20" x2="437.90" y2="381.20" stroke="#231f20" stroke-width="1.25"/>
<text x="433.30" y="383.84" font-size="6.6" text-anchor="end" fill="#231f20" stroke="#231f20" stroke-width="0.17">0.0</text>
<line x1="434.90" y1="352.70" x2="437.90" y2="352.70" stroke="#231f20" stroke-width="1.25"/>
<text x="433.30" y="355.34" font-size="6.6" text-anchor="end" fill="#231f20" stroke="#231f20" stroke-width="0.17">0.5</text>
<line x1="434.90" y1="324.20" x2="437.90" y2="324.20" stroke="#231f20" stroke-width="1.25"/>
<text x="433.30" y="326.84" font-size="6.6" text-anchor="end" fill="#231f20" stroke="#231f20" stroke-width="0.17">1.0</text>
<line x1="434.90" y1="295.70" x2="437.90" y2="295.70" stroke="#231f20" stroke-width="1.25"/>
<text x="433.30" y="298.34" font-size="6.6" text-anchor="end" fill="#231f20" stroke="#231f20" stroke-width="0.17">1.5</text>
<rect x="449.20" y="327.90" width="21.50" height="53.30" fill="#2b4b7f" stroke="#223c65" stroke-width="0.6"/>
<rect x="481.00" y="321.40" width="21.50" height="59.80" fill="#502462" stroke="#401c4e" stroke-width="0.6"/>
<line x1="437.40" y1="381.20" x2="511.90" y2="381.20" stroke="#231f20" stroke-width="1.3"/>
<line x1="460.00" y1="381.20" x2="460.00" y2="384.70" stroke="#231f20" stroke-width="1.105"/>
<line x1="491.80" y1="381.20" x2="491.80" y2="384.70" stroke="#231f20" stroke-width="1.105"/>
<text x="404.70" y="335.80" font-size="9.6" text-anchor="middle" fill="#231f20" stroke="#231f20" stroke-width="0.24" transform="rotate(-90 404.70 335.80)">Fold change</text>
<text x="415.80" y="336.10" font-size="9.6" text-anchor="middle" fill="#231f20" stroke="#231f20" stroke-width="0.24" transform="rotate(-90 415.80 336.10)">(treated/untreated)</text>
<text x="463.00" y="389.00" font-size="6.5" text-anchor="end" fill="#231f20" stroke="#231f20" stroke-width="0.16" transform="rotate(-45 463.00 389.00)">Bid +/+</text>
<text x="495.00" y="389.00" font-size="6.5" text-anchor="end" fill="#231f20" stroke="#231f20" stroke-width="0.16" transform="rotate(-45 495.00 389.00)">TKO</text>
<text x="9.80" y="438.30" font-size="10.5" text-anchor="start" fill="#231f20" stroke="#231f20" stroke-width="0.47" transform="translate(9.80 438.30) scale(0.9 1) translate(-9.80 -438.30)">G</text>
<text x="151.30" y="439.20" font-size="9.6" text-anchor="middle" fill="#231f20" stroke="#231f20" stroke-width="0.24" textLength="115.20" lengthAdjust="spacingAndGlyphs">BrdU+ Myeloid Progenitors</text>
<line x1="45.00" y1="465.00" x2="45.00" y2="538.12" stroke="#231f20" stroke-width="1.25"/>
<line x1="42.00" y1="537.50" x2="45.00" y2="537.50" stroke="#231f20" stroke-width="1.25"/>
<text x="40.30" y="540.14" font-size="6.6" text-anchor="end" fill="#231f20" stroke="#231f20" stroke-width="0.17">0</text>
<line x1="42.00" y1="513.90" x2="45.00" y2="513.90" stroke="#231f20" stroke-width="1.25"/>
<text x="40.30" y="516.54" font-size="6.6" text-anchor="end" fill="#231f20" stroke="#231f20" stroke-width="0.17">1&#215;10<tspan font-size="4.4" dy="-2.6">5</tspan></text>
<line x1="42.00" y1="490.30" x2="45.00" y2="490.30" stroke="#231f20" stroke-width="1.25"/>
<text x="40.30" y="492.94" font-size="6.6" text-anchor="end" fill="#231f20" stroke="#231f20" stroke-width="0.17">2&#215;10<tspan font-size="4.4" dy="-2.6">5</tspan></text>
<line x1="42.00" y1="466.70" x2="45.00" y2="466.70" stroke="#231f20" stroke-width="1.25"/>
<text x="40.30" y="469.34" font-size="6.6" text-anchor="end" fill="#231f20" stroke="#231f20" stroke-width="0.17">3&#215;10<tspan font-size="4.4" dy="-2.6">5</tspan></text>
<line x1="44.50" y1="537.50" x2="133.00" y2="537.50" stroke="#231f20" stroke-width="1.3"/>
<line x1="59.30" y1="537.50" x2="59.30" y2="541.00" stroke="#231f20" stroke-width="1.105"/>
<line x1="80.00" y1="537.50" x2="80.00" y2="541.00" stroke="#231f20" stroke-width="1.105"/>
<line x1="100.00" y1="537.50" x2="100.00" y2="541.00" stroke="#231f20" stroke-width="1.105"/>
<line x1="120.50" y1="537.50" x2="120.50" y2="541.00" stroke="#231f20" stroke-width="1.105"/>
<text x="15.60" y="501.00" font-size="9.6" text-anchor="middle" fill="#231f20" stroke="#231f20" stroke-width="0.24" transform="rotate(-90 15.60 501.00)">Number of cells</text>
<path d="M59.30 470.80V466.80H80.50V470.80" fill="none" stroke="#231f20" stroke-width="1.2"/>
<text x="70.00" y="464.00" font-size="5.6" text-anchor="middle" fill="#231f20" stroke="#231f20" stroke-width="0.14">ns</text>
<path d="M59.30 481.00V477.00H99.50V481.00" fill="none" stroke="#231f20" stroke-width="1.2"/>
<circle cx="77.00" cy="473.00" r="0.7" fill="#231f20"/>
<circle cx="79.50" cy="473.00" r="0.7" fill="#231f20"/>
<circle cx="82.00" cy="473.00" r="0.7" fill="#231f20"/>
<path d="M59.30 492.00V488.00H122.50V492.00" fill="none" stroke="#231f20" stroke-width="1.2"/>
<text x="89.50" y="485.50" font-size="5.6" text-anchor="middle" fill="#231f20" stroke="#231f20" stroke-width="0.14">ns</text>
<path d="M102.50 503.50V499.50H123.80V503.50" fill="none" stroke="#231f20" stroke-width="1.2"/>
<text x="113.30" y="496.70" font-size="5.6" text-anchor="middle" fill="#231f20" stroke="#231f20" stroke-width="0.14">ns</text>
<circle cx="61.30" cy="494.50" r="1.5" fill="#1d4a8e"/>
<circle cx="56.30" cy="498.80" r="1.5" fill="#1d4a8e"/>
<circle cx="53.80" cy="503.00" r="1.5" fill="#1d4a8e"/>
<circle cx="57.00" cy="507.00" r="1.5" fill="#1d4a8e"/>
<circle cx="61.30" cy="507.00" r="1.5" fill="#1d4a8e"/>
<circle cx="65.00" cy="507.00" r="1.5" fill="#1d4a8e"/>
<circle cx="61.30" cy="518.80" r="1.5" fill="#1d4a8e"/>
<circle cx="57.00" cy="522.50" r="1.5" fill="#1d4a8e"/>
<line x1="51.80" y1="507.00" x2="66.30" y2="507.00" stroke="#1a1a1a" stroke-width="1.3"/>
<circle cx="76.30" cy="511.30" r="1.5" fill="#8990cc"/>
<circle cx="81.30" cy="511.30" r="1.5" fill="#8990cc"/>
<circle cx="79.50" cy="524.50" r="1.5" fill="#8990cc"/>
<circle cx="79.50" cy="531.30" r="1.5" fill="#8990cc"/>
<line x1="72.50" y1="519.50" x2="86.30" y2="519.50" stroke="#1a1a1a" stroke-width="1.3"/>
<polygon points="100.00,524.10 101.70,525.80 100.00,527.50 98.30,525.80" fill="#4a1a68"/>
<polygon points="97.00,529.30 98.70,531.00 97.00,532.70 95.30,531.00" fill="#4a1a68"/>
<polygon points="103.00,529.80 104.70,531.50 103.00,533.20 101.30,531.50" fill="#4a1a68"/>
<polygon points="99.00,532.80 100.70,534.50 99.00,536.20 97.30,534.50" fill="#4a1a68"/>
<polygon points="102.00,533.30 103.70,535.00 102.00,536.70 100.30,535.00" fill="#4a1a68"/>
<line x1="93.00" y1="532.50" x2="106.30" y2="532.50" stroke="#1a1a1a" stroke-width="1.3"/>
<polygon points="119.50,519.60 121.20,521.30 119.50,523.00 117.80,521.30" fill="#9b7ab8"/>
<polygon points="116.50,523.30 118.20,525.00 116.50,526.70 114.80,525.00" fill="#9b7ab8"/>
<polygon points="122.50,523.30 124.20,525.00 122.50,526.70 120.80,525.00" fill="#9b7ab8"/>
<polygon points="120.50,528.80 122.20,530.50 120.50,532.20 118.80,530.50" fill="#9b7ab8"/>
<line x1="113.80" y1="525.00" x2="127.00" y2="525.00" stroke="#1a1a1a" stroke-width="1.3"/>
<text x="62.00" y="546.00" font-size="6.5" text-anchor="end" fill="#231f20" stroke="#231f20" stroke-width="0.16" transform="rotate(-45 62.00 546.00)">Bid +/+</text>
<text x="82.80" y="546.00" font-size="6.5" text-anchor="end" fill="#231f20" stroke="#231f20" stroke-width="0.16" transform="rotate(-45 82.80 546.00)">Bid +/+ +Enbrel</text>
<text x="103.00" y="546.00" font-size="6.5" text-anchor="end" fill="#231f20" stroke="#231f20" stroke-width="0.16" transform="rotate(-45 103.00 546.00)">TKO</text>
<text x="123.50" y="546.00" font-size="6.5" text-anchor="end" fill="#231f20" stroke="#231f20" stroke-width="0.16" transform="rotate(-45 123.50 546.00)">TKO + Enbrel</text>
<line x1="176.50" y1="451.50" x2="176.50" y2="537.73" stroke="#231f20" stroke-width="1.25"/>
<line x1="173.50" y1="537.10" x2="176.50" y2="537.10" stroke="#231f20" stroke-width="1.25"/>
<text x="172.00" y="539.74" font-size="6.6" text-anchor="end" fill="#231f20" stroke="#231f20" stroke-width="0.17">0</text>
<line x1="173.50" y1="509.30" x2="176.50" y2="509.30" stroke="#231f20" stroke-width="1.25"/>
<text x="172.00" y="511.94" font-size="6.6" text-anchor="end" fill="#231f20" stroke="#231f20" stroke-width="0.17">1</text>
<line x1="173.50" y1="481.50" x2="176.50" y2="481.50" stroke="#231f20" stroke-width="1.25"/>
<text x="172.00" y="484.14" font-size="6.6" text-anchor="end" fill="#231f20" stroke="#231f20" stroke-width="0.17">2</text>
<line x1="173.50" y1="453.70" x2="176.50" y2="453.70" stroke="#231f20" stroke-width="1.25"/>
<text x="172.00" y="456.34" font-size="6.6" text-anchor="end" fill="#231f20" stroke="#231f20" stroke-width="0.17">3</text>
<rect x="187.30" y="521.00" width="21.60" height="16.10" fill="#2b4b7f" stroke="#223c65" stroke-width="0.6"/>
<rect x="218.30" y="467.10" width="21.50" height="70.00" fill="#502462" stroke="#401c4e" stroke-width="0.6"/>
<line x1="176.00" y1="537.10" x2="249.20" y2="537.10" stroke="#231f20" stroke-width="1.3"/>
<line x1="198.10" y1="537.10" x2="198.10" y2="540.60" stroke="#231f20" stroke-width="1.105"/>
<line x1="229.00" y1="537.10" x2="229.00" y2="540.60" stroke="#231f20" stroke-width="1.105"/>
<text x="148.90" y="492.00" font-size="9.6" text-anchor="middle" fill="#231f20" stroke="#231f20" stroke-width="0.24" transform="rotate(-90 148.90 492.00)">Fold change</text>
<text x="160.70" y="492.00" font-size="9.6" text-anchor="middle" fill="#231f20" stroke="#231f20" stroke-width="0.24" transform="rotate(-90 160.70 492.00)">(treated/untreated)</text>
<text x="201.00" y="545.50" font-size="6.5" text-anchor="end" fill="#231f20" stroke="#231f20" stroke-width="0.16" transform="rotate(-45 201.00 545.50)">Bid +/+</text>
<text x="232.00" y="545.50" font-size="6.5" text-anchor="end" fill="#231f20" stroke="#231f20" stroke-width="0.16" transform="rotate(-45 232.00 545.50)">TKO</text>
<text x="271.00" y="438.30" font-size="10.5" text-anchor="start" fill="#231f20" stroke="#231f20" stroke-width="0.47" transform="translate(271.00 438.30) scale(0.9 1) translate(-271.00 -438.30)">I</text>
<text x="395.70" y="439.60" font-size="9.6" text-anchor="middle" fill="#231f20" stroke="#231f20" stroke-width="0.24" textLength="36.00" lengthAdjust="spacingAndGlyphs">Platelets</text>
<line x1="301.70" y1="459.00" x2="301.70" y2="537.73" stroke="#231f20" stroke-width="1.25"/>
<line x1="298.70" y1="537.10" x2="301.70" y2="537.10" stroke="#231f20" stroke-width="1.25"/>
<text x="296.50" y="539.74" font-size="6.6" text-anchor="end" fill="#231f20" stroke="#231f20" stroke-width="0.17">0</text>
<line x1="298.70" y1="522.00" x2="301.70" y2="522.00" stroke="#231f20" stroke-width="1.25"/>
<text x="296.50" y="524.64" font-size="6.6" text-anchor="end" fill="#231f20" stroke="#231f20" stroke-width="0.17">500</text>
<line x1="298.70" y1="506.90" x2="301.70" y2="506.90" stroke="#231f20" stroke-width="1.25"/>
<text x="296.50" y="509.54" font-size="6.6" text-anchor="end" fill="#231f20" stroke="#231f20" stroke-width="0.17">1000</text>
<line x1="298.70" y1="491.80" x2="301.70" y2="491.80" stroke="#231f20" stroke-width="1.25"/>
<text x="296.50" y="494.44" font-size="6.6" text-anchor="end" fill="#231f20" stroke="#231f20" stroke-width="0.17">1500</text>
<line x1="298.70" y1="476.70" x2="301.70" y2="476.70" stroke="#231f20" stroke-width="1.25"/>
<text x="296.50" y="479.34" font-size="6.6" text-anchor="end" fill="#231f20" stroke="#231f20" stroke-width="0.17">2000</text>
<line x1="298.70" y1="461.60" x2="301.70" y2="461.60" stroke="#231f20" stroke-width="1.25"/>
<text x="296.50" y="464.24" font-size="6.6" text-anchor="end" fill="#231f20" stroke="#231f20" stroke-width="0.17">2500</text>
<line x1="301.20" y1="537.10" x2="390.60" y2="537.10" stroke="#231f20" stroke-width="1.3"/>
<line x1="315.20" y1="537.10" x2="315.20" y2="540.60" stroke="#231f20" stroke-width="1.105"/>
<line x1="335.40" y1="537.10" x2="335.40" y2="540.60" stroke="#231f20" stroke-width="1.105"/>
<line x1="355.60" y1="537.10" x2="355.60" y2="540.60" stroke="#231f20" stroke-width="1.105"/>
<line x1="375.80" y1="537.10" x2="375.80" y2="540.60" stroke="#231f20" stroke-width="1.105"/>
<text x="275.00" y="498.80" font-size="6.8" text-anchor="middle" fill="#231f20" stroke="#231f20" stroke-width="0.17" transform="rotate(-90 275.00 498.80)">10<tspan font-size="4.2" dy="-2.6">3</tspan><tspan dy="2.6">/ &#181;L</tspan></text>
<path d="M315.20 453.30V449.10H335.40V453.30" fill="none" stroke="#231f20" stroke-width="1.2"/>
<text x="325.30" y="447.55" font-size="5.6" text-anchor="middle" fill="#231f20" stroke="#231f20" stroke-width="0.14">ns</text>
<path d="M315.20 466.70V462.50H355.60V466.70" fill="none" stroke="#231f20" stroke-width="1.2"/>
<circle cx="335.90" cy="459.80" r="0.7" fill="#231f20"/>
<path d="M315.20 480.20V476.00H375.80V480.20" fill="none" stroke="#231f20" stroke-width="1.2"/>
<text x="344.80" y="473.15" font-size="5.6" text-anchor="middle" fill="#231f20" stroke="#231f20" stroke-width="0.14">ns</text>
<path d="M354.20 492.10V487.90H375.80V492.10" fill="none" stroke="#231f20" stroke-width="1.2"/>
<text x="365.00" y="485.25" font-size="5.6" text-anchor="middle" fill="#231f20" stroke="#231f20" stroke-width="0.14">ns</text>
<circle cx="310.60" cy="492.20" r="1.5" fill="#1d4a8e"/>
<circle cx="315.20" cy="492.70" r="1.5" fill="#1d4a8e"/>
<circle cx="319.80" cy="491.40" r="1.5" fill="#1d4a8e"/>
<circle cx="313.80" cy="503.50" r="1.5" fill="#1d4a8e"/>
<circle cx="317.50" cy="503.00" r="1.5" fill="#1d4a8e"/>
<circle cx="310.60" cy="513.70" r="1.5" fill="#1d4a8e"/>
<circle cx="315.20" cy="514.80" r="1.5" fill="#1d4a8e"/>
<circle cx="319.80" cy="513.70" r="1.5" fill="#1d4a8e"/>
<circle cx="312.50" cy="509.00" r="1.5" fill="#1d4a8e"/>
<line x1="308.50" y1="504.80" x2="321.90" y2="504.80" stroke="#1a1a1a" stroke-width="1.3"/>
<circle cx="335.40" cy="483.80" r="1.5" fill="#8990cc"/>
<circle cx="335.40" cy="492.20" r="1.5" fill="#8990cc"/>
<circle cx="335.40" cy="509.40" r="1.5" fill="#8990cc"/>
<line x1="328.70" y1="496.20" x2="342.70" y2="496.20" stroke="#1a1a1a" stroke-width="1.3"/>
<polygon points="353.70,503.90 355.40,505.60 353.70,507.30 352.00,505.60" fill="#4a1a68"/>
<polygon points="358.30,507.70 360.00,509.40 358.30,511.10 356.60,509.40" fill="#4a1a68"/>
<polygon points="351.50,515.80 353.20,517.50 351.50,519.20 349.80,517.50" fill="#4a1a68"/>
<polygon points="360.20,515.80 361.90,517.50 360.20,519.20 358.50,517.50" fill="#4a1a68"/>
<polygon points="351.50,523.30 353.20,525.00 351.50,526.70 349.80,525.00" fill="#4a1a68"/>
<polygon points="357.00,523.30 358.70,525.00 357.00,526.70 355.30,525.00" fill="#4a1a68"/>
<polygon points="352.90,527.30 354.60,529.00 352.90,530.70 351.20,529.00" fill="#4a1a68"/>
<polygon points="359.60,527.30 361.30,529.00 359.60,530.70 357.90,529.00" fill="#4a1a68"/>
<line x1="348.90" y1="519.60" x2="362.90" y2="519.60" stroke="#1a1a1a" stroke-width="1.3"/>
<polygon points="373.10,503.10 374.80,504.80 373.10,506.50 371.40,504.80" fill="#9b7ab8"/>
<polygon points="378.50,501.80 380.20,503.50 378.50,505.20 376.80,503.50" fill="#9b7ab8"/>
<polygon points="373.10,511.20 374.80,512.90 373.10,514.60 371.40,512.90" fill="#9b7ab8"/>
<polygon points="378.50,510.30 380.20,512.00 378.50,513.70 376.80,512.00" fill="#9b7ab8"/>
<polygon points="375.80,520.10 377.50,521.80 375.80,523.50 374.10,521.80" fill="#9b7ab8"/>
<line x1="369.00" y1="511.00" x2="383.00" y2="511.00" stroke="#1a1a1a" stroke-width="1.3"/>
<text x="318.00" y="545.50" font-size="6.5" text-anchor="end" fill="#231f20" stroke="#231f20" stroke-width="0.16" transform="rotate(-45 318.00 545.50)">Bid +/+</text>
<text x="338.20" y="545.50" font-size="6.5" text-anchor="end" fill="#231f20" stroke="#231f20" stroke-width="0.16" transform="rotate(-45 338.20 545.50)">Bid +/+ +Enbrel</text>
<text x="358.40" y="545.50" font-size="6.5" text-anchor="end" fill="#231f20" stroke="#231f20" stroke-width="0.16" transform="rotate(-45 358.40 545.50)">TKO</text>
<text x="378.60" y="545.50" font-size="6.5" text-anchor="end" fill="#231f20" stroke="#231f20" stroke-width="0.16" transform="rotate(-45 378.60 545.50)">TKO + Enbrel</text>
<line x1="438.70" y1="450.20" x2="438.70" y2="537.73" stroke="#231f20" stroke-width="1.25"/>
<line x1="435.70" y1="537.10" x2="438.70" y2="537.10" stroke="#231f20" stroke-width="1.25"/>
<text x="433.30" y="539.74" font-size="6.6" text-anchor="end" fill="#231f20" stroke="#231f20" stroke-width="0.17">0.0</text>
<line x1="435.70" y1="515.90" x2="438.70" y2="515.90" stroke="#231f20" stroke-width="1.25"/>
<text x="433.30" y="518.54" font-size="6.6" text-anchor="end" fill="#231f20" stroke="#231f20" stroke-width="0.17">0.5</text>
<line x1="435.70" y1="494.70" x2="438.70" y2="494.70" stroke="#231f20" stroke-width="1.25"/>
<text x="433.30" y="497.34" font-size="6.6" text-anchor="end" fill="#231f20" stroke="#231f20" stroke-width="0.17">1.0</text>
<line x1="435.70" y1="473.50" x2="438.70" y2="473.50" stroke="#231f20" stroke-width="1.25"/>
<text x="433.30" y="476.14" font-size="6.6" text-anchor="end" fill="#231f20" stroke="#231f20" stroke-width="0.17">1.5</text>
<line x1="435.70" y1="452.30" x2="438.70" y2="452.30" stroke="#231f20" stroke-width="1.25"/>
<text x="433.30" y="454.94" font-size="6.6" text-anchor="end" fill="#231f20" stroke="#231f20" stroke-width="0.17">2.0</text>
<rect x="449.50" y="483.80" width="22.00" height="53.30" fill="#2b4b7f" stroke="#223c65" stroke-width="0.6"/>
<rect x="481.50" y="473.80" width="21.50" height="63.30" fill="#502462" stroke="#401c4e" stroke-width="0.6"/>
<line x1="438.20" y1="537.10" x2="507.90" y2="537.10" stroke="#231f20" stroke-width="1.3"/>
<line x1="460.50" y1="537.10" x2="460.50" y2="540.60" stroke="#231f20" stroke-width="1.105"/>
<line x1="492.20" y1="537.10" x2="492.20" y2="540.60" stroke="#231f20" stroke-width="1.105"/>
<text x="404.70" y="492.00" font-size="9.6" text-anchor="middle" fill="#231f20" stroke="#231f20" stroke-width="0.24" transform="rotate(-90 404.70 492.00)">Fold change</text>
<text x="417.90" y="491.40" font-size="9.6" text-anchor="middle" fill="#231f20" stroke="#231f20" stroke-width="0.24" transform="rotate(-90 417.90 491.40)">(treated/untreated)</text>
<text x="463.00" y="545.50" font-size="6.5" text-anchor="end" fill="#231f20" stroke="#231f20" stroke-width="0.16" transform="rotate(-45 463.00 545.50)">Bid +/+</text>
<text x="495.00" y="545.50" font-size="6.5" text-anchor="end" fill="#231f20" stroke="#231f20" stroke-width="0.16" transform="rotate(-45 495.00 545.50)">TKO</text>
<text x="32.60" y="592.60" font-size="10.5" text-anchor="start" fill="#231f20" stroke="#231f20" stroke-width="0.47" transform="translate(32.60 592.60) scale(0.9 1) translate(-32.60 -592.60)">J</text>
<text x="112.50" y="594.80" font-size="6.4" text-anchor="middle" fill="#333" stroke="#333" stroke-width="0.16">Bid+/+: Apoptotic death</text>
<text x="260.00" y="595.50" font-size="6.4" text-anchor="middle" fill="#333" stroke="#333" stroke-width="0.16">DKO: No death</text>
<text x="408.60" y="596.00" font-size="6.4" text-anchor="middle" fill="#333" stroke="#333" stroke-width="0.16">TKO: Necroptosis</text>
<defs>
<linearGradient id="g1" x1="0" y1="0" x2="1" y2="0"><stop offset="0" stop-color="#fbfbfb"/><stop offset="1" stop-color="#f1f1f1"/></linearGradient>
<linearGradient id="g2" x1="0" y1="0" x2="1" y2="0"><stop offset="0" stop-color="#f8f8f8"/><stop offset="0.5" stop-color="#ececec"/><stop offset="1" stop-color="#cdcdcd"/></linearGradient>
<linearGradient id="g3" x1="0" y1="0" x2="1" y2="0"><stop offset="0" stop-color="#d9d9d9"/><stop offset="0.35" stop-color="#b9b9b9"/><stop offset="0.6" stop-color="#a3a3a3"/><stop offset="1" stop-color="#9c9c9c"/></linearGradient>
<marker id="ah" markerWidth="4" markerHeight="4" refX="3" refY="2" orient="auto" markerUnits="userSpaceOnUse"><path d="M0,0 L4,2 L0,4 z" fill="#111"/></marker>
</defs>
<rect x="32.50" y="602.50" width="143.00" height="140.00" fill="#999" opacity="0.5"/>
<rect x="177.00" y="602.50" width="152.50" height="140.00" fill="#999" opacity="0.5"/>
<rect x="330.00" y="602.50" width="159.00" height="140.00" fill="#777" opacity="0.5"/>
<rect x="31.50" y="601.50" width="143.00" height="139.70" fill="url(#g1)" stroke="#333" stroke-width="1"/>
<rect x="176.00" y="601.50" width="152.50" height="139.70" fill="url(#g2)" stroke="#333" stroke-width="1"/>
<rect x="329.00" y="601.50" width="159.00" height="139.70" fill="url(#g3)" stroke="#333" stroke-width="1"/>
<text x="112.30" y="615.80" font-size="9.4" text-anchor="middle" fill="#111" stroke="#111" stroke-width="0.24">LPS/TNF&#945;</text>
<line x1="114.40" y1="614.80" x2="114.40" y2="617.70" stroke="#111" stroke-width="1.5"/>
<polygon points="114.40,622.60 111.85,617.70 116.95,617.70" fill="#111"/>
<rect x="81.30" y="623.50" width="28.50" height="6.90" fill="#e2e1c9" stroke="#3a3a3a" stroke-width="0.9" rx="1.3"/>
<text x="95.55" y="629.34" font-size="7.2" text-anchor="middle" fill="#2a2a2a" stroke="#2a2a2a" stroke-width="0.18">Bid</text>
<rect x="117.30" y="623.50" width="31.70" height="6.90" fill="#fdf1e2" stroke="#3a3a3a" stroke-width="0.9" rx="1.3"/>
<text x="133.15" y="629.34" font-size="7.2" text-anchor="middle" fill="#2a2a2a" stroke="#2a2a2a" stroke-width="0.18">Ripk1</text>
<rect x="89.30" y="634.20" width="47.20" height="5.60" fill="#46591f" stroke="#26310f" stroke-width="0.8"/>
<rect x="89.30" y="639.80" width="47.20" height="5.60" fill="#506527" stroke="#26310f" stroke-width="0.8"/>
<text x="112.90" y="639.20" font-size="7.3" text-anchor="middle" fill="#eef0e0" stroke="#eef0e0" stroke-width="0.18">Caspase-8</text>
<text x="112.90" y="644.80" font-size="7.3" text-anchor="middle" fill="#eef0e0" stroke="#eef0e0" stroke-width="0.18">Caspase-8</text>
<line x1="111.50" y1="645.50" x2="111.50" y2="649.60" stroke="#111" stroke-width="1.5"/>
<polygon points="111.50,654.50 108.95,649.60 114.05,649.60" fill="#111"/>
<line x1="136.50" y1="648.00" x2="139.26" y2="651.13" stroke="#111" stroke-width="1.5"/>
<polygon points="142.50,654.80 137.35,652.81 141.17,649.44" fill="#111"/>
<rect x="96.50" y="657.20" width="27.80" height="7.20" fill="#e9c2c6" stroke="#3a3a3a" stroke-width="0.9" rx="1.3"/>
<text x="110.40" y="663.19" font-size="7.2" text-anchor="middle" fill="#2a2a2a" stroke="#2a2a2a" stroke-width="0.18">tBid</text>
<rect x="133.30" y="657.20" width="35.50" height="7.20" fill="#f6c28f" stroke="#3a3a3a" stroke-width="0.9" rx="1.3"/>
<text x="151.05" y="663.19" font-size="7.2" text-anchor="middle" fill="#2a2a2a" stroke="#2a2a2a" stroke-width="0.18">tRipk1</text>
<line x1="111.40" y1="664.60" x2="111.40" y2="671.90" stroke="#111" stroke-width="1.5"/>
<polygon points="111.40,676.80 108.85,671.90 113.95,671.90" fill="#111"/>
<rect x="84.40" y="677.30" width="28.40" height="7.20" fill="#ffffff" stroke="#3a3a3a" stroke-width="0.9"/>
<rect x="112.80" y="677.30" width="28.20" height="7.20" fill="#f2d4d4" stroke="#3a3a3a" stroke-width="0.9"/>
<text x="98.60" y="683.40" font-size="7.0" text-anchor="middle" fill="#222" stroke="#222" stroke-width="0.18">Bak</text>
<text x="126.90" y="683.40" font-size="7.0" text-anchor="middle" fill="#222" stroke="#222" stroke-width="0.18">Bak</text>
<line x1="111.40" y1="684.80" x2="111.40" y2="688.60" stroke="#111" stroke-width="1.5"/>
<polygon points="111.40,693.50 108.85,688.60 113.95,688.60" fill="#111"/>
<text x="110.90" y="704.60" font-size="9.4" text-anchor="middle" fill="#111" stroke="#111" stroke-width="0.24">MOMP</text>
<line x1="111.40" y1="705.20" x2="111.40" y2="708.50" stroke="#111" stroke-width="1.5"/>
<polygon points="111.40,713.40 108.85,708.50 113.95,708.50" fill="#111"/>
<rect x="85.20" y="713.80" width="54.10" height="7.00" fill="#c9c1e1" stroke="#3a3a3a" stroke-width="0.9" rx="1.3"/>
<text x="112.25" y="719.69" font-size="7.2" text-anchor="middle" fill="#2a2a2a" stroke="#2a2a2a" stroke-width="0.18">Caspase-3</text>
<line x1="111.40" y1="721.00" x2="111.40" y2="724.70" stroke="#111" stroke-width="1.5"/>
<polygon points="111.40,729.60 108.85,724.70 113.95,724.70" fill="#111"/>
<text x="111.50" y="738.90" font-size="9.4" text-anchor="middle" fill="#111" stroke="#111" stroke-width="0.24">Apoptosis</text>
<path d="M78.2 638.2 C59.8 638.5 59.8 626.4 76.9 626.7" fill="none" stroke="#2e2e2e" stroke-width="2.7"/>
<path d="M78.2 638.2 C59.8 638.5 59.8 626.4 76.9 626.7" fill="none" stroke="#9a9a9a" stroke-width="0.7"/>
<polygon points="79.80,626.70 76.60,624.30 76.60,629.10" fill="#1e1e1e"/>
<path d="M84.2 716.6 A34.5 34.5 0 1 1 71.5 648.7" fill="none" stroke="#3f3f3f" stroke-width="2.1"/>
<polygon points="82.40,645.80 74.40,639.40 74.40,654.00" fill="#555" stroke="#333" stroke-width="0.6"/>
<text x="65.40" y="675.00" font-size="7.4" text-anchor="middle" font-weight="bold" fill="#5a6b2b">Feed-</text>
<text x="65.40" y="684.00" font-size="7.4" text-anchor="middle" font-weight="bold" fill="#5a6b2b">forward</text>
<text x="65.40" y="693.00" font-size="7.4" text-anchor="middle" font-weight="bold" fill="#5a6b2b">Caspase</text>
<text x="65.40" y="702.00" font-size="7.4" text-anchor="middle" font-weight="bold" fill="#5a6b2b">cascade</text>
<text x="255.50" y="615.40" font-size="9.4" text-anchor="middle" fill="#111" stroke="#111" stroke-width="0.24">LPS/TNF&#945;</text>
<line x1="252.40" y1="614.60" x2="252.40" y2="617.50" stroke="#111" stroke-width="1.5"/>
<polygon points="252.40,622.40 249.85,617.50 254.95,617.50" fill="#111"/>
<rect x="221.00" y="623.10" width="28.40" height="6.70" fill="#e2e1c9" stroke="#3a3a3a" stroke-width="0.9" rx="1.3"/>
<text x="235.20" y="628.84" font-size="7.2" text-anchor="middle" fill="#2a2a2a" stroke="#2a2a2a" stroke-width="0.18">Bid</text>
<rect x="256.50" y="623.10" width="32.00" height="6.70" fill="#fdf1e2" stroke="#3a3a3a" stroke-width="0.9" rx="1.3"/>
<text x="272.50" y="628.84" font-size="7.2" text-anchor="middle" fill="#2a2a2a" stroke="#2a2a2a" stroke-width="0.18">Ripk1</text>
<rect x="226.90" y="633.50" width="48.30" height="5.55" fill="#46591f" stroke="#26310f" stroke-width="0.8"/>
<rect x="226.90" y="639.05" width="48.30" height="5.55" fill="#506527" stroke="#26310f" stroke-width="0.8"/>
<text x="251.05" y="638.45" font-size="7.3" text-anchor="middle" fill="#eef0e0" stroke="#eef0e0" stroke-width="0.18">Caspase-8</text>
<text x="251.05" y="644.00" font-size="7.3" text-anchor="middle" fill="#eef0e0" stroke="#eef0e0" stroke-width="0.18">Caspase-8</text>
<line x1="238.20" y1="645.20" x2="234.19" y2="649.88" stroke="#111" stroke-width="1.5"/>
<polygon points="231.00,653.60 232.25,648.22 236.12,651.54" fill="#111"/>
<line x1="271.40" y1="645.20" x2="276.18" y2="650.09" stroke="#111" stroke-width="1.5"/>
<polygon points="279.60,653.60 274.35,651.87 278.00,648.31" fill="#111"/>
<rect x="208.00" y="656.50" width="27.20" height="9.00" fill="#e9c2c6" stroke="#3a3a3a" stroke-width="0.9" rx="1.3"/>
<text x="221.60" y="663.39" font-size="7.2" text-anchor="middle" fill="#2a2a2a" stroke="#2a2a2a" stroke-width="0.18">tBid</text>
<rect x="268.40" y="656.50" width="34.30" height="9.00" fill="#f6c28f" stroke="#3a3a3a" stroke-width="0.9" rx="1.3"/>
<text x="285.55" y="663.39" font-size="7.2" text-anchor="middle" fill="#2a2a2a" stroke="#2a2a2a" stroke-width="0.18">tRipk1</text>
<line x1="244.10" y1="654.60" x2="244.10" y2="661.60" stroke="#b8242a" stroke-width="1.6"/>
<polygon points="244.10,665.80 241.92,661.60 246.28,661.60" fill="#b8242a"/>
<line x1="309.30" y1="665.80" x2="309.30" y2="658.80" stroke="#7a9a3c" stroke-width="1.6"/>
<polygon points="309.30,654.60 311.48,658.80 307.12,658.80" fill="#7a9a3c"/>
<rect x="226.90" y="676.30" width="27.60" height="6.80" fill="#ffffff" stroke="#3a3a3a" stroke-width="0.9"/>
<rect x="254.50" y="676.30" width="27.50" height="6.80" fill="#f2d4d4" stroke="#3a3a3a" stroke-width="0.9"/>
<text x="240.70" y="682.00" font-size="7.0" text-anchor="middle" fill="#222" stroke="#222" stroke-width="0.18">Bak</text>
<text x="268.25" y="682.00" font-size="7.0" text-anchor="middle" fill="#222" stroke="#222" stroke-width="0.18">Bak</text>
<line x1="254.50" y1="683.40" x2="254.50" y2="687.60" stroke="#111" stroke-width="1.5"/>
<polygon points="254.50,692.50 251.95,687.60 257.05,687.60" fill="#111"/>
<text x="252.70" y="702.00" font-size="9.4" text-anchor="middle" fill="#111" stroke="#111" stroke-width="0.24">MOMP</text>
<line x1="254.50" y1="703.00" x2="254.50" y2="707.30" stroke="#111" stroke-width="1.5"/>
<polygon points="254.50,712.20 251.95,707.30 257.05,707.30" fill="#111"/>
<rect x="227.80" y="712.70" width="52.40" height="6.10" fill="#c9c1e1" stroke="#3a3a3a" stroke-width="0.9" rx="1.3"/>
<text x="254.00" y="718.07" font-size="7.0" text-anchor="middle" fill="#2a2a2a" stroke="#2a2a2a" stroke-width="0.18">Caspase-3</text>
<line x1="254.50" y1="719.00" x2="254.50" y2="723.60" stroke="#111" stroke-width="1.5"/>
<polygon points="254.50,728.50 251.95,723.60 257.05,723.60" fill="#111"/>
<text x="253.20" y="738.50" font-size="9.4" text-anchor="middle" fill="#111" stroke="#111" stroke-width="0.24">Apoptosis</text>
<path d="M216.5 636.8 C196.8 637.1 196.8 626.0 214.7 626.3" fill="none" stroke="#2e2e2e" stroke-width="2.7"/>
<path d="M216.5 636.8 C196.8 637.1 196.8 626.0 214.7 626.3" fill="none" stroke="#9a9a9a" stroke-width="0.7"/>
<polygon points="217.60,626.30 214.40,623.90 214.40,628.70" fill="#1e1e1e"/>
<path d="M292.7 638.2 C311.9 638.5 311.9 626.9 294.1 627.2" fill="none" stroke="#2e2e2e" stroke-width="2.7"/>
<path d="M292.7 638.2 C311.9 638.5 311.9 626.9 294.1 627.2" fill="none" stroke="#9a9a9a" stroke-width="0.7"/>
<polygon points="291.20,627.20 294.40,624.80 294.40,629.60" fill="#1e1e1e"/>
<path d="M227.5 715.8 A34.5 34.5 0 1 1 214.0 646.5" fill="none" stroke="#3f3f3f" stroke-width="2.1"/>
<polygon points="223.40,644.60 215.40,638.20 215.40,652.80" fill="#555" stroke="#333" stroke-width="0.6"/>
<text x="206.30" y="679.20" font-size="7.4" text-anchor="middle" font-weight="bold" fill="#5a6b2b">Feed-</text>
<text x="206.30" y="688.20" font-size="7.4" text-anchor="middle" font-weight="bold" fill="#5a6b2b">forward</text>
<text x="206.30" y="697.20" font-size="7.4" text-anchor="middle" font-weight="bold" fill="#5a6b2b">Caspase</text>
<text x="206.30" y="706.20" font-size="7.4" text-anchor="middle" font-weight="bold" fill="#5a6b2b">cascade</text>
<line x1="194.40" y1="671.80" x2="221.90" y2="697.50" stroke="#111" stroke-width="1.7"/>
<line x1="221.90" y1="671.80" x2="194.40" y2="697.50" stroke="#111" stroke-width="1.7"/>
<line x1="229.30" y1="671.80" x2="284.10" y2="735.50" stroke="#111" stroke-width="1.9"/>
<line x1="284.10" y1="671.80" x2="229.30" y2="735.50" stroke="#111" stroke-width="1.9"/>
<text x="407.40" y="614.60" font-size="9.4" text-anchor="middle" fill="#111" stroke="#111" stroke-width="0.24">LPS/TNF&#945;</text>
<line x1="407.40" y1="614.00" x2="407.40" y2="617.70" stroke="#111" stroke-width="1.5"/>
<polygon points="407.40,622.60 404.85,617.70 409.95,617.70" fill="#111"/>
<rect x="373.40" y="623.80" width="26.60" height="6.80" fill="#e2e1c9" stroke="#3a3a3a" stroke-width="0.9" rx="1.3"/>
<text x="386.70" y="629.59" font-size="7.2" text-anchor="middle" fill="#2a2a2a" stroke="#2a2a2a" stroke-width="0.18">Bid</text>
<rect x="412.30" y="623.80" width="31.50" height="6.80" fill="#fdf1e2" stroke="#3a3a3a" stroke-width="0.9" rx="1.3"/>
<text x="428.05" y="629.59" font-size="7.2" text-anchor="middle" fill="#2a2a2a" stroke="#2a2a2a" stroke-width="0.18">Ripk1</text>
<line x1="376.50" y1="621.30" x2="391.50" y2="632.80" stroke="#111" stroke-width="1.7"/>
<line x1="391.50" y1="621.30" x2="376.50" y2="632.80" stroke="#111" stroke-width="1.7"/>
<rect x="383.10" y="633.20" width="46.10" height="5.55" fill="#46591f" stroke="#26310f" stroke-width="0.8"/>
<rect x="383.10" y="638.75" width="46.10" height="5.55" fill="#506527" stroke="#26310f" stroke-width="0.8"/>
<text x="406.15" y="638.15" font-size="7.3" text-anchor="middle" fill="#eef0e0" stroke="#eef0e0" stroke-width="0.18">Caspase-8</text>
<text x="406.15" y="643.70" font-size="7.3" text-anchor="middle" fill="#eef0e0" stroke="#eef0e0" stroke-width="0.18">Caspase-8</text>
<line x1="393.40" y1="645.00" x2="388.54" y2="650.22" stroke="#111" stroke-width="1.5"/>
<polygon points="385.20,653.80 386.68,648.48 390.40,651.95" fill="#111"/>
<line x1="427.00" y1="645.00" x2="431.25" y2="650.05" stroke="#111" stroke-width="1.5"/>
<polygon points="434.40,653.80 429.30,651.69 433.20,648.41" fill="#111"/>
<rect x="362.40" y="656.00" width="27.20" height="9.30" fill="#e9c2c6" stroke="#3a3a3a" stroke-width="0.9" rx="1.3"/>
<text x="376.00" y="663.04" font-size="7.2" text-anchor="middle" fill="#2a2a2a" stroke="#2a2a2a" stroke-width="0.18">tBid</text>
<line x1="368.00" y1="655.80" x2="383.00" y2="666.60" stroke="#111" stroke-width="1.7"/>
<line x1="383.00" y1="655.80" x2="368.00" y2="666.60" stroke="#111" stroke-width="1.7"/>
<rect x="334.20" y="674.00" width="27.40" height="7.20" fill="#ffffff" stroke="#3a3a3a" stroke-width="0.9"/>
<rect x="361.60" y="674.00" width="28.10" height="7.20" fill="#f2d4d4" stroke="#3a3a3a" stroke-width="0.9"/>
<text x="347.90" y="680.10" font-size="7.0" text-anchor="middle" fill="#222" stroke="#222" stroke-width="0.18">Bak</text>
<text x="375.65" y="680.10" font-size="7.0" text-anchor="middle" fill="#222" stroke="#222" stroke-width="0.18">Bak</text>
<line x1="361.50" y1="681.50" x2="361.50" y2="685.60" stroke="#111" stroke-width="1.5"/>
<polygon points="361.50,690.50 358.95,685.60 364.05,685.60" fill="#111"/>
<text x="360.70" y="700.50" font-size="9.4" text-anchor="middle" fill="#111" stroke="#111" stroke-width="0.24">MOMP</text>
<line x1="361.50" y1="701.30" x2="361.50" y2="705.30" stroke="#111" stroke-width="1.5"/>
<polygon points="361.50,710.20 358.95,705.30 364.05,705.30" fill="#111"/>
<rect x="334.90" y="710.50" width="53.80" height="7.10" fill="#c9c1e1" stroke="#3a3a3a" stroke-width="0.9" rx="1.3"/>
<text x="361.80" y="716.44" font-size="7.2" text-anchor="middle" fill="#2a2a2a" stroke="#2a2a2a" stroke-width="0.18">Caspase-3</text>
<line x1="361.50" y1="717.90" x2="361.50" y2="722.10" stroke="#111" stroke-width="1.5"/>
<polygon points="361.50,727.00 358.95,722.10 364.05,722.10" fill="#111"/>
<text x="361.80" y="738.40" font-size="9.4" text-anchor="middle" fill="#111" stroke="#111" stroke-width="0.24">Apoptosis</text>
<line x1="334.50" y1="672.50" x2="391.90" y2="737.30" stroke="#111" stroke-width="1.9"/>
<line x1="391.90" y1="672.50" x2="334.50" y2="737.30" stroke="#111" stroke-width="1.9"/>
<rect x="446.60" y="652.20" width="33.70" height="5.20" fill="#fce9d8" stroke="#3a3a3a" stroke-width="0.9" rx="1.3"/>
<text x="463.45" y="656.90" font-size="6.4" text-anchor="middle" fill="#2a2a2a" stroke="#2a2a2a" stroke-width="0.16">Ripk1</text>
<rect x="430.40" y="657.60" width="33.70" height="5.40" fill="#fce9d8" stroke="#3a3a3a" stroke-width="0.9" rx="1.3"/>
<text x="447.25" y="662.40" font-size="6.4" text-anchor="middle" fill="#2a2a2a" stroke="#2a2a2a" stroke-width="0.16">Ripk1</text>
<rect x="421.70" y="663.00" width="33.20" height="5.20" fill="#fce9d8" stroke="#3a3a3a" stroke-width="0.9" rx="1.3"/>
<text x="438.30" y="667.70" font-size="6.4" text-anchor="middle" fill="#2a2a2a" stroke="#2a2a2a" stroke-width="0.16">Ripk1</text>
<rect x="427.30" y="668.20" width="35.30" height="5.40" fill="#fce9d8" stroke="#3a3a3a" stroke-width="0.9" rx="1.3"/>
<text x="444.95" y="673.00" font-size="6.4" text-anchor="middle" fill="#2a2a2a" stroke="#2a2a2a" stroke-width="0.16">Ripk1</text>
<rect x="451.20" y="671.90" width="34.30" height="5.60" fill="#fce9d8" stroke="#3a3a3a" stroke-width="0.9" rx="1.3"/>
<text x="468.35" y="676.80" font-size="6.4" text-anchor="middle" fill="#2a2a2a" stroke="#2a2a2a" stroke-width="0.16">Ripk1</text>
<line x1="445.60" y1="677.80" x2="445.60" y2="682.30" stroke="#111" stroke-width="1.5"/>
<polygon points="445.60,687.20 443.05,682.30 448.15,682.30" fill="#111"/>
<rect x="427.10" y="687.40" width="34.20" height="7.80" fill="#fbe8d8" stroke="#3a3a3a" stroke-width="0.9" rx="1.3"/>
<text x="444.20" y="693.69" font-size="7.2" text-anchor="middle" fill="#2a2a2a" stroke="#2a2a2a" stroke-width="0.18">Ripk3</text>
<line x1="445.60" y1="695.50" x2="445.60" y2="703.90" stroke="#111" stroke-width="1.5"/>
<polygon points="445.60,708.80 443.05,703.90 448.15,703.90" fill="#111"/>
<rect x="427.10" y="709.20" width="34.20" height="8.60" fill="#d9ebf4" stroke="#3a3a3a" stroke-width="0.9" rx="1.3"/>
<text x="444.20" y="715.89" font-size="7.2" text-anchor="middle" fill="#2a2a2a" stroke="#2a2a2a" stroke-width="0.18">MLKL</text>
<line x1="445.60" y1="718.20" x2="445.60" y2="722.60" stroke="#111" stroke-width="1.5"/>
<polygon points="445.60,727.50 443.05,722.60 448.15,722.60" fill="#111"/>
<text x="445.10" y="738.40" font-size="9.4" text-anchor="middle" fill="#111" stroke="#111" stroke-width="0.24">Necroptosis</text>
<rect x="0.75" y="0.75" width="518.3" height="749.3" fill="none" stroke="#000" stroke-width="1.6"/>
</svg>
</body></html>
